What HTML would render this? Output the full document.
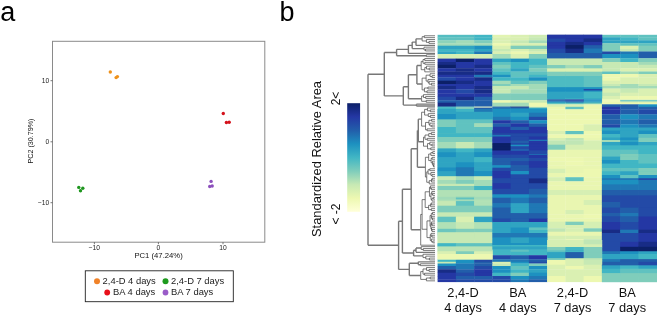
<!DOCTYPE html>
<html><head><meta charset="utf-8"><style>
html,body{margin:0;padding:0;background:#fff;width:660px;height:317px;overflow:hidden}
svg{display:block;will-change:transform}
</style></head><body>
<svg width="660" height="317" viewBox="0 0 660 317">
<rect width="660" height="317" fill="#fff"/>
<text x="0.2" y="20.8" font-family="Liberation Sans, sans-serif" font-size="27" fill="#000">a</text>
<text x="279.6" y="21" font-family="Liberation Sans, sans-serif" font-size="27" fill="#000">b</text>
<!-- PCA box -->
<rect x="52.5" y="41.3" width="212.3" height="200.9" fill="none" stroke="#8a8a8a" stroke-width="1"/>
<g stroke="#555" stroke-width="0.8">
<line x1="50.5" y1="80.7" x2="52.5" y2="80.7"/>
<line x1="50.5" y1="141.8" x2="52.5" y2="141.8"/>
<line x1="50.5" y1="202.7" x2="52.5" y2="202.7"/>
<line x1="94.4" y1="242.2" x2="94.4" y2="244.2"/>
<line x1="158.4" y1="242.2" x2="158.4" y2="244.2"/>
<line x1="223" y1="242.2" x2="223" y2="244.2"/>
</g>
<g font-family="Liberation Sans, sans-serif" font-size="6.7" fill="#222" text-anchor="end">
<text x="49.3" y="83">10</text>
<text x="49.3" y="144">0</text>
<text x="49.3" y="205">&#8722;10</text>
</g>
<g font-family="Liberation Sans, sans-serif" font-size="6.7" fill="#222" text-anchor="middle">
<text x="94.4" y="250">&#8722;10</text>
<text x="158.4" y="250">0</text>
<text x="223" y="250">10</text>
</g>
<text x="158.6" y="257.5" font-family="Liberation Sans, sans-serif" font-size="7.7" fill="#111" text-anchor="middle">PC1 (47.24%)</text>
<text transform="translate(33.2,141) rotate(-90)" font-family="Liberation Sans, sans-serif" font-size="7.7" fill="#111" text-anchor="middle" textLength="45" lengthAdjust="spacingAndGlyphs">PC2 (30.79%)</text>
<circle cx="110.3" cy="72" r="1.7" fill="#EE921C"/>
<circle cx="116.1" cy="77.6" r="1.7" fill="#EE921C"/>
<circle cx="117.4" cy="76.6" r="1.7" fill="#EE921C"/>
<circle cx="223.3" cy="113.5" r="1.7" fill="#D4111B"/>
<circle cx="226.4" cy="122.5" r="1.7" fill="#D4111B"/>
<circle cx="229.2" cy="122.2" r="1.7" fill="#D4111B"/>
<circle cx="211.1" cy="181.4" r="1.7" fill="#8C50BC"/>
<circle cx="209.7" cy="186.5" r="1.7" fill="#8C50BC"/>
<circle cx="212.2" cy="186" r="1.7" fill="#8C50BC"/>
<circle cx="78.8" cy="187.4" r="1.7" fill="#1E961E"/>
<circle cx="82.8" cy="188.2" r="1.7" fill="#1E961E"/>
<circle cx="80.5" cy="190.8" r="1.7" fill="#1E961E"/>
<!-- legend -->
<rect x="85.3" y="270.8" width="148" height="30.9" fill="none" stroke="#222" stroke-width="0.9"/>
<circle cx="97" cy="281.3" r="3" fill="#F08228"/>
<circle cx="165.5" cy="281.3" r="3" fill="#1E9A1E"/>
<circle cx="107.2" cy="292.5" r="2.9" fill="#E8101A"/>
<circle cx="165.5" cy="292.5" r="2.9" fill="#9A5CC8"/>
<g font-family="Liberation Sans, sans-serif" font-size="9.4" fill="#222">
<text x="102.6" y="284.2">2,4-D 4 days</text>
<text x="171" y="284.2">2,4-D 7 days</text>
<text x="113" y="295.4">BA 4 days</text>
<text x="171" y="295.4">BA 7 days</text>
</g>
<!-- heatmap -->
<rect x="437.60" y="34.80" width="18.56" height="2.80" fill="#54bdc1"/>
<rect x="455.86" y="34.80" width="18.56" height="2.80" fill="#54bdc1"/>
<rect x="474.12" y="34.80" width="18.56" height="2.80" fill="#41b6c4"/>
<rect x="492.38" y="34.80" width="18.56" height="2.80" fill="#e2f4b2"/>
<rect x="510.63" y="34.80" width="18.56" height="2.80" fill="#daf0b2"/>
<rect x="528.89" y="34.80" width="18.56" height="2.80" fill="#cfecb3"/>
<rect x="437.60" y="37.30" width="18.56" height="3.30" fill="#60c2c0"/>
<rect x="455.86" y="37.30" width="18.56" height="3.30" fill="#60c2c0"/>
<rect x="474.12" y="37.30" width="18.56" height="3.30" fill="#41b6c4"/>
<rect x="492.38" y="37.30" width="18.56" height="3.30" fill="#daf0b2"/>
<rect x="510.63" y="37.30" width="18.56" height="3.30" fill="#daf0b2"/>
<rect x="528.89" y="37.30" width="18.56" height="3.30" fill="#c7e9b4"/>
<rect x="437.60" y="40.30" width="18.56" height="3.20" fill="#8dd3ba"/>
<rect x="455.86" y="40.30" width="18.56" height="3.20" fill="#a3dbb8"/>
<rect x="474.12" y="40.30" width="18.56" height="3.20" fill="#7fcdbb"/>
<rect x="492.38" y="40.30" width="18.56" height="3.20" fill="#daf0b2"/>
<rect x="510.63" y="40.30" width="18.56" height="3.20" fill="#c7e9b4"/>
<rect x="528.89" y="40.30" width="18.56" height="3.20" fill="#a3dbb8"/>
<rect x="437.60" y="43.20" width="18.56" height="2.80" fill="#a3dbb8"/>
<rect x="455.86" y="43.20" width="18.56" height="2.80" fill="#a3dbb8"/>
<rect x="474.12" y="43.20" width="18.56" height="2.80" fill="#a3dbb8"/>
<rect x="492.38" y="43.20" width="18.56" height="2.80" fill="#edf8b1"/>
<rect x="510.63" y="43.20" width="18.56" height="2.80" fill="#daf0b2"/>
<rect x="528.89" y="43.20" width="18.56" height="2.80" fill="#daf0b2"/>
<rect x="437.60" y="45.70" width="18.56" height="3.60" fill="#2fa4c2"/>
<rect x="455.86" y="45.70" width="18.56" height="3.60" fill="#2fa4c2"/>
<rect x="474.12" y="45.70" width="18.56" height="3.60" fill="#1d91c0"/>
<rect x="492.38" y="45.70" width="18.56" height="3.60" fill="#daf0b2"/>
<rect x="510.63" y="45.70" width="18.56" height="3.60" fill="#7fcdbb"/>
<rect x="528.89" y="45.70" width="18.56" height="3.60" fill="#7fcdbb"/>
<rect x="437.60" y="49.00" width="18.56" height="2.80" fill="#41b6c4"/>
<rect x="455.86" y="49.00" width="18.56" height="2.80" fill="#41b6c4"/>
<rect x="474.12" y="49.00" width="18.56" height="2.80" fill="#2fa4c2"/>
<rect x="492.38" y="49.00" width="18.56" height="2.80" fill="#c7e9b4"/>
<rect x="510.63" y="49.00" width="18.56" height="2.80" fill="#daf0b2"/>
<rect x="528.89" y="49.00" width="18.56" height="2.80" fill="#c7e9b4"/>
<rect x="437.60" y="51.50" width="18.56" height="2.80" fill="#2fa4c2"/>
<rect x="455.86" y="51.50" width="18.56" height="2.80" fill="#41b6c4"/>
<rect x="474.12" y="51.50" width="18.56" height="2.80" fill="#2078b5"/>
<rect x="492.38" y="51.50" width="18.56" height="2.80" fill="#daf0b2"/>
<rect x="510.63" y="51.50" width="18.56" height="2.80" fill="#edf8b1"/>
<rect x="528.89" y="51.50" width="18.56" height="2.80" fill="#daf0b2"/>
<rect x="437.60" y="54.00" width="18.56" height="4.90" fill="#d6efb3"/>
<rect x="455.86" y="54.00" width="18.56" height="4.90" fill="#d6efb3"/>
<rect x="474.12" y="54.00" width="18.56" height="4.90" fill="#d6efb3"/>
<rect x="492.38" y="54.00" width="18.56" height="4.90" fill="#a3dbb8"/>
<rect x="510.63" y="54.00" width="18.56" height="4.90" fill="#daf0b2"/>
<rect x="528.89" y="54.00" width="18.56" height="4.90" fill="#7fcdbb"/>
<rect x="437.60" y="58.60" width="18.56" height="3.70" fill="#2437a4"/>
<rect x="455.86" y="58.60" width="18.56" height="3.70" fill="#0c2068"/>
<rect x="474.12" y="58.60" width="18.56" height="3.70" fill="#2437a4"/>
<rect x="492.38" y="58.60" width="18.56" height="3.70" fill="#2fa4c2"/>
<rect x="510.63" y="58.60" width="18.56" height="3.70" fill="#1d91c0"/>
<rect x="528.89" y="58.60" width="18.56" height="3.70" fill="#41b6c4"/>
<rect x="437.60" y="62.00" width="18.56" height="3.10" fill="#182c86"/>
<rect x="455.86" y="62.00" width="18.56" height="3.10" fill="#2437a4"/>
<rect x="474.12" y="62.00" width="18.56" height="3.10" fill="#2437a4"/>
<rect x="492.38" y="62.00" width="18.56" height="3.10" fill="#60c2c0"/>
<rect x="510.63" y="62.00" width="18.56" height="3.10" fill="#41b6c4"/>
<rect x="528.89" y="62.00" width="18.56" height="3.10" fill="#41b6c4"/>
<rect x="437.60" y="64.80" width="18.56" height="3.70" fill="#0c2068"/>
<rect x="455.86" y="64.80" width="18.56" height="3.70" fill="#2437a4"/>
<rect x="474.12" y="64.80" width="18.56" height="3.70" fill="#182c86"/>
<rect x="492.38" y="64.80" width="18.56" height="3.70" fill="#7fcdbb"/>
<rect x="510.63" y="64.80" width="18.56" height="3.70" fill="#41b6c4"/>
<rect x="528.89" y="64.80" width="18.56" height="3.70" fill="#60c2c0"/>
<rect x="437.60" y="68.20" width="18.56" height="3.60" fill="#2437a4"/>
<rect x="455.86" y="68.20" width="18.56" height="3.60" fill="#182c86"/>
<rect x="474.12" y="68.20" width="18.56" height="3.60" fill="#2437a4"/>
<rect x="492.38" y="68.20" width="18.56" height="3.60" fill="#60c2c0"/>
<rect x="510.63" y="68.20" width="18.56" height="3.60" fill="#2fa4c2"/>
<rect x="528.89" y="68.20" width="18.56" height="3.60" fill="#7fcdbb"/>
<rect x="437.60" y="71.50" width="18.56" height="3.60" fill="#182c86"/>
<rect x="455.86" y="71.50" width="18.56" height="3.60" fill="#182c86"/>
<rect x="474.12" y="71.50" width="18.56" height="3.60" fill="#182c86"/>
<rect x="492.38" y="71.50" width="18.56" height="3.60" fill="#41b6c4"/>
<rect x="510.63" y="71.50" width="18.56" height="3.60" fill="#60c2c0"/>
<rect x="528.89" y="71.50" width="18.56" height="3.60" fill="#60c2c0"/>
<rect x="437.60" y="74.80" width="18.56" height="2.80" fill="#2437a4"/>
<rect x="455.86" y="74.80" width="18.56" height="2.80" fill="#2437a4"/>
<rect x="474.12" y="74.80" width="18.56" height="2.80" fill="#2078b5"/>
<rect x="492.38" y="74.80" width="18.56" height="2.80" fill="#1d91c0"/>
<rect x="510.63" y="74.80" width="18.56" height="2.80" fill="#60c2c0"/>
<rect x="528.89" y="74.80" width="18.56" height="2.80" fill="#41b6c4"/>
<rect x="437.60" y="77.30" width="18.56" height="3.70" fill="#234aa7"/>
<rect x="455.86" y="77.30" width="18.56" height="3.70" fill="#2437a4"/>
<rect x="474.12" y="77.30" width="18.56" height="3.70" fill="#182c86"/>
<rect x="492.38" y="77.30" width="18.56" height="3.70" fill="#41b6c4"/>
<rect x="510.63" y="77.30" width="18.56" height="3.70" fill="#41b6c4"/>
<rect x="528.89" y="77.30" width="18.56" height="3.70" fill="#1d91c0"/>
<rect x="437.60" y="80.70" width="18.56" height="3.60" fill="#0c2068"/>
<rect x="455.86" y="80.70" width="18.56" height="3.60" fill="#182c86"/>
<rect x="474.12" y="80.70" width="18.56" height="3.60" fill="#2437a4"/>
<rect x="492.38" y="80.70" width="18.56" height="3.60" fill="#a3dbb8"/>
<rect x="510.63" y="80.70" width="18.56" height="3.60" fill="#60c2c0"/>
<rect x="528.89" y="80.70" width="18.56" height="3.60" fill="#7fcdbb"/>
<rect x="437.60" y="84.00" width="18.56" height="2.30" fill="#2437a4"/>
<rect x="455.86" y="84.00" width="18.56" height="2.30" fill="#2437a4"/>
<rect x="474.12" y="84.00" width="18.56" height="2.30" fill="#2437a4"/>
<rect x="492.38" y="84.00" width="18.56" height="2.30" fill="#7fcdbb"/>
<rect x="510.63" y="84.00" width="18.56" height="2.30" fill="#a3dbb8"/>
<rect x="528.89" y="84.00" width="18.56" height="2.30" fill="#a3dbb8"/>
<rect x="437.60" y="86.00" width="18.56" height="3.60" fill="#182c86"/>
<rect x="455.86" y="86.00" width="18.56" height="3.60" fill="#2437a4"/>
<rect x="474.12" y="86.00" width="18.56" height="3.60" fill="#182c86"/>
<rect x="492.38" y="86.00" width="18.56" height="3.60" fill="#c7e9b4"/>
<rect x="510.63" y="86.00" width="18.56" height="3.60" fill="#c7e9b4"/>
<rect x="528.89" y="86.00" width="18.56" height="3.60" fill="#a3dbb8"/>
<rect x="437.60" y="89.30" width="18.56" height="4.50" fill="#2437a4"/>
<rect x="455.86" y="89.30" width="18.56" height="4.50" fill="#234aa7"/>
<rect x="474.12" y="89.30" width="18.56" height="4.50" fill="#182c86"/>
<rect x="492.38" y="89.30" width="18.56" height="4.50" fill="#c7e9b4"/>
<rect x="510.63" y="89.30" width="18.56" height="4.50" fill="#a3dbb8"/>
<rect x="528.89" y="89.30" width="18.56" height="4.50" fill="#a3dbb8"/>
<rect x="437.60" y="93.50" width="18.56" height="3.60" fill="#2437a4"/>
<rect x="455.86" y="93.50" width="18.56" height="3.60" fill="#2437a4"/>
<rect x="474.12" y="93.50" width="18.56" height="3.60" fill="#2437a4"/>
<rect x="492.38" y="93.50" width="18.56" height="3.60" fill="#7fcdbb"/>
<rect x="510.63" y="93.50" width="18.56" height="3.60" fill="#7fcdbb"/>
<rect x="528.89" y="93.50" width="18.56" height="3.60" fill="#7fcdbb"/>
<rect x="437.60" y="96.80" width="18.56" height="3.70" fill="#234aa7"/>
<rect x="455.86" y="96.80" width="18.56" height="3.70" fill="#182c86"/>
<rect x="474.12" y="96.80" width="18.56" height="3.70" fill="#225eaa"/>
<rect x="492.38" y="96.80" width="18.56" height="3.70" fill="#7fcdbb"/>
<rect x="510.63" y="96.80" width="18.56" height="3.70" fill="#7fcdbb"/>
<rect x="528.89" y="96.80" width="18.56" height="3.70" fill="#7fcdbb"/>
<rect x="437.60" y="100.20" width="18.56" height="2.80" fill="#225eaa"/>
<rect x="455.86" y="100.20" width="18.56" height="2.80" fill="#225eaa"/>
<rect x="474.12" y="100.20" width="18.56" height="2.80" fill="#225eaa"/>
<rect x="492.38" y="100.20" width="18.56" height="2.80" fill="#edf8b1"/>
<rect x="510.63" y="100.20" width="18.56" height="2.80" fill="#daf0b2"/>
<rect x="528.89" y="100.20" width="18.56" height="2.80" fill="#c7e9b4"/>
<rect x="437.60" y="102.70" width="18.56" height="4.20" fill="#182c86"/>
<rect x="455.86" y="102.70" width="18.56" height="4.20" fill="#225eaa"/>
<rect x="474.12" y="102.70" width="18.56" height="4.20" fill="#225eaa"/>
<rect x="492.38" y="102.70" width="18.56" height="4.20" fill="#a3dbb8"/>
<rect x="510.63" y="102.70" width="18.56" height="4.20" fill="#a3dbb8"/>
<rect x="528.89" y="102.70" width="18.56" height="4.20" fill="#edf8b1"/>
<rect x="437.60" y="106.60" width="18.56" height="1.30" fill="#41b6c4"/>
<rect x="455.86" y="106.60" width="18.56" height="1.30" fill="#7fcdbb"/>
<rect x="474.12" y="106.60" width="18.56" height="1.30" fill="#f6fcc5"/>
<rect x="492.38" y="106.60" width="18.56" height="1.30" fill="#225eaa"/>
<rect x="510.63" y="106.60" width="18.56" height="1.30" fill="#182c86"/>
<rect x="528.89" y="106.60" width="18.56" height="1.30" fill="#daf0b2"/>
<rect x="437.60" y="107.60" width="18.56" height="1.70" fill="#41b6c4"/>
<rect x="455.86" y="107.60" width="18.56" height="1.70" fill="#7fcdbb"/>
<rect x="474.12" y="107.60" width="18.56" height="1.70" fill="#225eaa"/>
<rect x="492.38" y="107.60" width="18.56" height="1.70" fill="#2078b5"/>
<rect x="510.63" y="107.60" width="18.56" height="1.70" fill="#2078b5"/>
<rect x="528.89" y="107.60" width="18.56" height="1.70" fill="#2fa4c2"/>
<rect x="437.60" y="109.00" width="18.56" height="4.00" fill="#41b6c4"/>
<rect x="455.86" y="109.00" width="18.56" height="4.00" fill="#41b6c4"/>
<rect x="474.12" y="109.00" width="18.56" height="4.00" fill="#2fa4c2"/>
<rect x="492.38" y="109.00" width="18.56" height="4.00" fill="#1d91c0"/>
<rect x="510.63" y="109.00" width="18.56" height="4.00" fill="#1d91c0"/>
<rect x="528.89" y="109.00" width="18.56" height="4.00" fill="#1d91c0"/>
<rect x="437.60" y="112.70" width="18.56" height="4.40" fill="#2fa4c2"/>
<rect x="455.86" y="112.70" width="18.56" height="4.40" fill="#41b6c4"/>
<rect x="474.12" y="112.70" width="18.56" height="4.40" fill="#41b6c4"/>
<rect x="492.38" y="112.70" width="18.56" height="4.40" fill="#1d91c0"/>
<rect x="510.63" y="112.70" width="18.56" height="4.40" fill="#2fa4c2"/>
<rect x="528.89" y="112.70" width="18.56" height="4.40" fill="#2078b5"/>
<rect x="437.60" y="116.80" width="18.56" height="3.70" fill="#41b6c4"/>
<rect x="455.86" y="116.80" width="18.56" height="3.70" fill="#60c2c0"/>
<rect x="474.12" y="116.80" width="18.56" height="3.70" fill="#41b6c4"/>
<rect x="492.38" y="116.80" width="18.56" height="3.70" fill="#2078b5"/>
<rect x="510.63" y="116.80" width="18.56" height="3.70" fill="#1d91c0"/>
<rect x="528.89" y="116.80" width="18.56" height="3.70" fill="#234aa7"/>
<rect x="437.60" y="120.20" width="18.56" height="3.60" fill="#60c2c0"/>
<rect x="455.86" y="120.20" width="18.56" height="3.60" fill="#60c2c0"/>
<rect x="474.12" y="120.20" width="18.56" height="3.60" fill="#60c2c0"/>
<rect x="492.38" y="120.20" width="18.56" height="3.60" fill="#2437a4"/>
<rect x="510.63" y="120.20" width="18.56" height="3.60" fill="#225eaa"/>
<rect x="528.89" y="120.20" width="18.56" height="3.60" fill="#1d91c0"/>
<rect x="437.60" y="123.50" width="18.56" height="3.60" fill="#7fcdbb"/>
<rect x="455.86" y="123.50" width="18.56" height="3.60" fill="#60c2c0"/>
<rect x="474.12" y="123.50" width="18.56" height="3.60" fill="#7fcdbb"/>
<rect x="492.38" y="123.50" width="18.56" height="3.60" fill="#225eaa"/>
<rect x="510.63" y="123.50" width="18.56" height="3.60" fill="#2437a4"/>
<rect x="528.89" y="123.50" width="18.56" height="3.60" fill="#225eaa"/>
<rect x="437.60" y="126.80" width="18.56" height="3.70" fill="#60c2c0"/>
<rect x="455.86" y="126.80" width="18.56" height="3.70" fill="#60c2c0"/>
<rect x="474.12" y="126.80" width="18.56" height="3.70" fill="#a3dbb8"/>
<rect x="492.38" y="126.80" width="18.56" height="3.70" fill="#2437a4"/>
<rect x="510.63" y="126.80" width="18.56" height="3.70" fill="#225eaa"/>
<rect x="528.89" y="126.80" width="18.56" height="3.70" fill="#2437a4"/>
<rect x="437.60" y="130.20" width="18.56" height="4.40" fill="#7fcdbb"/>
<rect x="455.86" y="130.20" width="18.56" height="4.40" fill="#60c2c0"/>
<rect x="474.12" y="130.20" width="18.56" height="4.40" fill="#60c2c0"/>
<rect x="492.38" y="130.20" width="18.56" height="4.40" fill="#182c86"/>
<rect x="510.63" y="130.20" width="18.56" height="4.40" fill="#182c86"/>
<rect x="528.89" y="130.20" width="18.56" height="4.40" fill="#2437a4"/>
<rect x="437.60" y="134.30" width="18.56" height="4.00" fill="#41b6c4"/>
<rect x="455.86" y="134.30" width="18.56" height="4.00" fill="#60c2c0"/>
<rect x="474.12" y="134.30" width="18.56" height="4.00" fill="#60c2c0"/>
<rect x="492.38" y="134.30" width="18.56" height="4.00" fill="#2437a4"/>
<rect x="510.63" y="134.30" width="18.56" height="4.00" fill="#182c86"/>
<rect x="528.89" y="134.30" width="18.56" height="4.00" fill="#2437a4"/>
<rect x="437.60" y="138.00" width="18.56" height="2.80" fill="#41b6c4"/>
<rect x="455.86" y="138.00" width="18.56" height="2.80" fill="#41b6c4"/>
<rect x="474.12" y="138.00" width="18.56" height="2.80" fill="#60c2c0"/>
<rect x="492.38" y="138.00" width="18.56" height="2.80" fill="#2437a4"/>
<rect x="510.63" y="138.00" width="18.56" height="2.80" fill="#2437a4"/>
<rect x="528.89" y="138.00" width="18.56" height="2.80" fill="#225eaa"/>
<rect x="437.60" y="140.50" width="18.56" height="4.50" fill="#a3dbb8"/>
<rect x="455.86" y="140.50" width="18.56" height="4.50" fill="#a3dbb8"/>
<rect x="474.12" y="140.50" width="18.56" height="4.50" fill="#a3dbb8"/>
<rect x="492.38" y="140.50" width="18.56" height="4.50" fill="#182c86"/>
<rect x="510.63" y="140.50" width="18.56" height="4.50" fill="#234aa7"/>
<rect x="528.89" y="140.50" width="18.56" height="4.50" fill="#182c86"/>
<rect x="437.60" y="144.70" width="18.56" height="5.30" fill="#a3dbb8"/>
<rect x="455.86" y="144.70" width="18.56" height="5.30" fill="#c7e9b4"/>
<rect x="474.12" y="144.70" width="18.56" height="5.30" fill="#c7e9b4"/>
<rect x="492.38" y="144.70" width="18.56" height="5.30" fill="#0c2068"/>
<rect x="510.63" y="144.70" width="18.56" height="5.30" fill="#2437a4"/>
<rect x="528.89" y="144.70" width="18.56" height="5.30" fill="#2437a4"/>
<rect x="437.60" y="149.70" width="18.56" height="3.60" fill="#41b6c4"/>
<rect x="455.86" y="149.70" width="18.56" height="3.60" fill="#60c2c0"/>
<rect x="474.12" y="149.70" width="18.56" height="3.60" fill="#2fa4c2"/>
<rect x="492.38" y="149.70" width="18.56" height="3.60" fill="#182c86"/>
<rect x="510.63" y="149.70" width="18.56" height="3.60" fill="#2437a4"/>
<rect x="528.89" y="149.70" width="18.56" height="3.60" fill="#234aa7"/>
<rect x="437.60" y="153.00" width="18.56" height="4.50" fill="#2fa4c2"/>
<rect x="455.86" y="153.00" width="18.56" height="4.50" fill="#60c2c0"/>
<rect x="474.12" y="153.00" width="18.56" height="4.50" fill="#41b6c4"/>
<rect x="492.38" y="153.00" width="18.56" height="4.50" fill="#182c86"/>
<rect x="510.63" y="153.00" width="18.56" height="4.50" fill="#2437a4"/>
<rect x="528.89" y="153.00" width="18.56" height="4.50" fill="#234aa7"/>
<rect x="437.60" y="157.20" width="18.56" height="4.40" fill="#2fa4c2"/>
<rect x="455.86" y="157.20" width="18.56" height="4.40" fill="#2fa4c2"/>
<rect x="474.12" y="157.20" width="18.56" height="4.40" fill="#41b6c4"/>
<rect x="492.38" y="157.20" width="18.56" height="4.40" fill="#234aa7"/>
<rect x="510.63" y="157.20" width="18.56" height="4.40" fill="#225eaa"/>
<rect x="528.89" y="157.20" width="18.56" height="4.40" fill="#234aa7"/>
<rect x="437.60" y="161.30" width="18.56" height="4.50" fill="#41b6c4"/>
<rect x="455.86" y="161.30" width="18.56" height="4.50" fill="#2fa4c2"/>
<rect x="474.12" y="161.30" width="18.56" height="4.50" fill="#2fa4c2"/>
<rect x="492.38" y="161.30" width="18.56" height="4.50" fill="#2437a4"/>
<rect x="510.63" y="161.30" width="18.56" height="4.50" fill="#234aa7"/>
<rect x="528.89" y="161.30" width="18.56" height="4.50" fill="#2437a4"/>
<rect x="437.60" y="165.50" width="18.56" height="3.60" fill="#60c2c0"/>
<rect x="455.86" y="165.50" width="18.56" height="3.60" fill="#1d91c0"/>
<rect x="474.12" y="165.50" width="18.56" height="3.60" fill="#41b6c4"/>
<rect x="492.38" y="165.50" width="18.56" height="3.60" fill="#1d91c0"/>
<rect x="510.63" y="165.50" width="18.56" height="3.60" fill="#234aa7"/>
<rect x="528.89" y="165.50" width="18.56" height="3.60" fill="#2437a4"/>
<rect x="437.60" y="168.80" width="18.56" height="4.50" fill="#1d91c0"/>
<rect x="455.86" y="168.80" width="18.56" height="4.50" fill="#1d91c0"/>
<rect x="474.12" y="168.80" width="18.56" height="4.50" fill="#2fa4c2"/>
<rect x="492.38" y="168.80" width="18.56" height="4.50" fill="#234aa7"/>
<rect x="510.63" y="168.80" width="18.56" height="4.50" fill="#234aa7"/>
<rect x="528.89" y="168.80" width="18.56" height="4.50" fill="#234aa7"/>
<rect x="437.60" y="173.00" width="18.56" height="4.50" fill="#41b6c4"/>
<rect x="455.86" y="173.00" width="18.56" height="4.50" fill="#2078b5"/>
<rect x="474.12" y="173.00" width="18.56" height="4.50" fill="#2fa4c2"/>
<rect x="492.38" y="173.00" width="18.56" height="4.50" fill="#2437a4"/>
<rect x="510.63" y="173.00" width="18.56" height="4.50" fill="#1d91c0"/>
<rect x="528.89" y="173.00" width="18.56" height="4.50" fill="#234aa7"/>
<rect x="437.60" y="177.20" width="18.56" height="4.40" fill="#daf0b2"/>
<rect x="455.86" y="177.20" width="18.56" height="4.40" fill="#a3dbb8"/>
<rect x="474.12" y="177.20" width="18.56" height="4.40" fill="#daf0b2"/>
<rect x="492.38" y="177.20" width="18.56" height="4.40" fill="#225eaa"/>
<rect x="510.63" y="177.20" width="18.56" height="4.40" fill="#2437a4"/>
<rect x="528.89" y="177.20" width="18.56" height="4.40" fill="#225eaa"/>
<rect x="437.60" y="181.30" width="18.56" height="4.50" fill="#c7e9b4"/>
<rect x="455.86" y="181.30" width="18.56" height="4.50" fill="#a3dbb8"/>
<rect x="474.12" y="181.30" width="18.56" height="4.50" fill="#c7e9b4"/>
<rect x="492.38" y="181.30" width="18.56" height="4.50" fill="#2437a4"/>
<rect x="510.63" y="181.30" width="18.56" height="4.50" fill="#234aa7"/>
<rect x="528.89" y="181.30" width="18.56" height="4.50" fill="#2437a4"/>
<rect x="437.60" y="185.50" width="18.56" height="4.80" fill="#a3dbb8"/>
<rect x="455.86" y="185.50" width="18.56" height="4.80" fill="#c7e9b4"/>
<rect x="474.12" y="185.50" width="18.56" height="4.80" fill="#7fcdbb"/>
<rect x="492.38" y="185.50" width="18.56" height="4.80" fill="#234aa7"/>
<rect x="510.63" y="185.50" width="18.56" height="4.80" fill="#2437a4"/>
<rect x="528.89" y="185.50" width="18.56" height="4.80" fill="#234aa7"/>
<rect x="437.60" y="190.00" width="18.56" height="3.60" fill="#c7e9b4"/>
<rect x="455.86" y="190.00" width="18.56" height="3.60" fill="#c7e9b4"/>
<rect x="474.12" y="190.00" width="18.56" height="3.60" fill="#c7e9b4"/>
<rect x="492.38" y="190.00" width="18.56" height="3.60" fill="#234aa7"/>
<rect x="510.63" y="190.00" width="18.56" height="3.60" fill="#234aa7"/>
<rect x="528.89" y="190.00" width="18.56" height="3.60" fill="#234aa7"/>
<rect x="437.60" y="193.30" width="18.56" height="3.70" fill="#a3dbb8"/>
<rect x="455.86" y="193.30" width="18.56" height="3.70" fill="#c7e9b4"/>
<rect x="474.12" y="193.30" width="18.56" height="3.70" fill="#a3dbb8"/>
<rect x="492.38" y="193.30" width="18.56" height="3.70" fill="#225eaa"/>
<rect x="510.63" y="193.30" width="18.56" height="3.70" fill="#225eaa"/>
<rect x="528.89" y="193.30" width="18.56" height="3.70" fill="#234aa7"/>
<rect x="437.60" y="196.70" width="18.56" height="3.60" fill="#7fcdbb"/>
<rect x="455.86" y="196.70" width="18.56" height="3.60" fill="#a3dbb8"/>
<rect x="474.12" y="196.70" width="18.56" height="3.60" fill="#a3dbb8"/>
<rect x="492.38" y="196.70" width="18.56" height="3.60" fill="#2078b5"/>
<rect x="510.63" y="196.70" width="18.56" height="3.60" fill="#1d91c0"/>
<rect x="528.89" y="196.70" width="18.56" height="3.60" fill="#2078b5"/>
<rect x="437.60" y="200.00" width="18.56" height="3.60" fill="#c7e9b4"/>
<rect x="455.86" y="200.00" width="18.56" height="3.60" fill="#60c2c0"/>
<rect x="474.12" y="200.00" width="18.56" height="3.60" fill="#c7e9b4"/>
<rect x="492.38" y="200.00" width="18.56" height="3.60" fill="#225eaa"/>
<rect x="510.63" y="200.00" width="18.56" height="3.60" fill="#2078b5"/>
<rect x="528.89" y="200.00" width="18.56" height="3.60" fill="#225eaa"/>
<rect x="437.60" y="203.30" width="18.56" height="3.70" fill="#a3dbb8"/>
<rect x="455.86" y="203.30" width="18.56" height="3.70" fill="#a3dbb8"/>
<rect x="474.12" y="203.30" width="18.56" height="3.70" fill="#a3dbb8"/>
<rect x="492.38" y="203.30" width="18.56" height="3.70" fill="#2078b5"/>
<rect x="510.63" y="203.30" width="18.56" height="3.70" fill="#2078b5"/>
<rect x="528.89" y="203.30" width="18.56" height="3.70" fill="#225eaa"/>
<rect x="437.60" y="206.70" width="18.56" height="4.40" fill="#60c2c0"/>
<rect x="455.86" y="206.70" width="18.56" height="4.40" fill="#7fcdbb"/>
<rect x="474.12" y="206.70" width="18.56" height="4.40" fill="#7fcdbb"/>
<rect x="492.38" y="206.70" width="18.56" height="4.40" fill="#225eaa"/>
<rect x="510.63" y="206.70" width="18.56" height="4.40" fill="#2fa4c2"/>
<rect x="528.89" y="206.70" width="18.56" height="4.40" fill="#2078b5"/>
<rect x="437.60" y="210.80" width="18.56" height="3.70" fill="#7fcdbb"/>
<rect x="455.86" y="210.80" width="18.56" height="3.70" fill="#a3dbb8"/>
<rect x="474.12" y="210.80" width="18.56" height="3.70" fill="#a3dbb8"/>
<rect x="492.38" y="210.80" width="18.56" height="3.70" fill="#2078b5"/>
<rect x="510.63" y="210.80" width="18.56" height="3.70" fill="#1d91c0"/>
<rect x="528.89" y="210.80" width="18.56" height="3.70" fill="#1d91c0"/>
<rect x="437.60" y="214.20" width="18.56" height="3.60" fill="#c7e9b4"/>
<rect x="455.86" y="214.20" width="18.56" height="3.60" fill="#a3dbb8"/>
<rect x="474.12" y="214.20" width="18.56" height="3.60" fill="#a3dbb8"/>
<rect x="492.38" y="214.20" width="18.56" height="3.60" fill="#225eaa"/>
<rect x="510.63" y="214.20" width="18.56" height="3.60" fill="#225eaa"/>
<rect x="528.89" y="214.20" width="18.56" height="3.60" fill="#2078b5"/>
<rect x="437.60" y="217.50" width="18.56" height="3.60" fill="#60c2c0"/>
<rect x="455.86" y="217.50" width="18.56" height="3.60" fill="#daf0b2"/>
<rect x="474.12" y="217.50" width="18.56" height="3.60" fill="#2fa4c2"/>
<rect x="492.38" y="217.50" width="18.56" height="3.60" fill="#234aa7"/>
<rect x="510.63" y="217.50" width="18.56" height="3.60" fill="#225eaa"/>
<rect x="528.89" y="217.50" width="18.56" height="3.60" fill="#225eaa"/>
<rect x="437.60" y="220.80" width="18.56" height="3.70" fill="#a3dbb8"/>
<rect x="455.86" y="220.80" width="18.56" height="3.70" fill="#daf0b2"/>
<rect x="474.12" y="220.80" width="18.56" height="3.70" fill="#a3dbb8"/>
<rect x="492.38" y="220.80" width="18.56" height="3.70" fill="#2fa4c2"/>
<rect x="510.63" y="220.80" width="18.56" height="3.70" fill="#1d91c0"/>
<rect x="528.89" y="220.80" width="18.56" height="3.70" fill="#1d91c0"/>
<rect x="437.60" y="224.20" width="18.56" height="3.60" fill="#a3dbb8"/>
<rect x="455.86" y="224.20" width="18.56" height="3.60" fill="#c7e9b4"/>
<rect x="474.12" y="224.20" width="18.56" height="3.60" fill="#c7e9b4"/>
<rect x="492.38" y="224.20" width="18.56" height="3.60" fill="#1d91c0"/>
<rect x="510.63" y="224.20" width="18.56" height="3.60" fill="#2fa4c2"/>
<rect x="528.89" y="224.20" width="18.56" height="3.60" fill="#2fa4c2"/>
<rect x="437.60" y="227.50" width="18.56" height="4.50" fill="#7fcdbb"/>
<rect x="455.86" y="227.50" width="18.56" height="4.50" fill="#a3dbb8"/>
<rect x="474.12" y="227.50" width="18.56" height="4.50" fill="#c7e9b4"/>
<rect x="492.38" y="227.50" width="18.56" height="4.50" fill="#1d91c0"/>
<rect x="510.63" y="227.50" width="18.56" height="4.50" fill="#2fa4c2"/>
<rect x="528.89" y="227.50" width="18.56" height="4.50" fill="#60c2c0"/>
<rect x="437.60" y="231.70" width="18.56" height="3.60" fill="#60c2c0"/>
<rect x="455.86" y="231.70" width="18.56" height="3.60" fill="#7fcdbb"/>
<rect x="474.12" y="231.70" width="18.56" height="3.60" fill="#a3dbb8"/>
<rect x="492.38" y="231.70" width="18.56" height="3.60" fill="#1d91c0"/>
<rect x="510.63" y="231.70" width="18.56" height="3.60" fill="#2078b5"/>
<rect x="528.89" y="231.70" width="18.56" height="3.60" fill="#1d91c0"/>
<rect x="437.60" y="235.00" width="18.56" height="3.60" fill="#a3dbb8"/>
<rect x="455.86" y="235.00" width="18.56" height="3.60" fill="#c7e9b4"/>
<rect x="474.12" y="235.00" width="18.56" height="3.60" fill="#a3dbb8"/>
<rect x="492.38" y="235.00" width="18.56" height="3.60" fill="#2078b5"/>
<rect x="510.63" y="235.00" width="18.56" height="3.60" fill="#2078b5"/>
<rect x="528.89" y="235.00" width="18.56" height="3.60" fill="#2078b5"/>
<rect x="437.60" y="238.30" width="18.56" height="1.30" fill="#c7e9b4"/>
<rect x="455.86" y="238.30" width="18.56" height="1.30" fill="#c7e9b4"/>
<rect x="474.12" y="238.30" width="18.56" height="1.30" fill="#c7e9b4"/>
<rect x="492.38" y="238.30" width="18.56" height="1.30" fill="#2078b5"/>
<rect x="510.63" y="238.30" width="18.56" height="1.30" fill="#1d91c0"/>
<rect x="528.89" y="238.30" width="18.56" height="1.30" fill="#1d91c0"/>
<rect x="437.60" y="239.30" width="18.56" height="4.50" fill="#daf0b2"/>
<rect x="455.86" y="239.30" width="18.56" height="4.50" fill="#c7e9b4"/>
<rect x="474.12" y="239.30" width="18.56" height="4.50" fill="#daf0b2"/>
<rect x="492.38" y="239.30" width="18.56" height="4.50" fill="#2078b5"/>
<rect x="510.63" y="239.30" width="18.56" height="4.50" fill="#1d91c0"/>
<rect x="528.89" y="239.30" width="18.56" height="4.50" fill="#2078b5"/>
<rect x="437.60" y="243.50" width="18.56" height="2.80" fill="#41b6c4"/>
<rect x="455.86" y="243.50" width="18.56" height="2.80" fill="#41b6c4"/>
<rect x="474.12" y="243.50" width="18.56" height="2.80" fill="#41b6c4"/>
<rect x="492.38" y="243.50" width="18.56" height="2.80" fill="#2078b5"/>
<rect x="510.63" y="243.50" width="18.56" height="2.80" fill="#1d91c0"/>
<rect x="528.89" y="243.50" width="18.56" height="2.80" fill="#1d91c0"/>
<rect x="437.60" y="246.00" width="18.56" height="3.60" fill="#c7e9b4"/>
<rect x="455.86" y="246.00" width="18.56" height="3.60" fill="#c7e9b4"/>
<rect x="474.12" y="246.00" width="18.56" height="3.60" fill="#c7e9b4"/>
<rect x="492.38" y="246.00" width="18.56" height="3.60" fill="#41b6c4"/>
<rect x="510.63" y="246.00" width="18.56" height="3.60" fill="#41b6c4"/>
<rect x="528.89" y="246.00" width="18.56" height="3.60" fill="#41b6c4"/>
<rect x="437.60" y="249.30" width="18.56" height="2.80" fill="#c7e9b4"/>
<rect x="455.86" y="249.30" width="18.56" height="2.80" fill="#a3dbb8"/>
<rect x="474.12" y="249.30" width="18.56" height="2.80" fill="#a3dbb8"/>
<rect x="492.38" y="249.30" width="18.56" height="2.80" fill="#41b6c4"/>
<rect x="510.63" y="249.30" width="18.56" height="2.80" fill="#60c2c0"/>
<rect x="528.89" y="249.30" width="18.56" height="2.80" fill="#41b6c4"/>
<rect x="437.60" y="251.80" width="18.56" height="3.70" fill="#edf8b1"/>
<rect x="455.86" y="251.80" width="18.56" height="3.70" fill="#daf0b2"/>
<rect x="474.12" y="251.80" width="18.56" height="3.70" fill="#edf8b1"/>
<rect x="492.38" y="251.80" width="18.56" height="3.70" fill="#41b6c4"/>
<rect x="510.63" y="251.80" width="18.56" height="3.70" fill="#41b6c4"/>
<rect x="528.89" y="251.80" width="18.56" height="3.70" fill="#41b6c4"/>
<rect x="437.60" y="255.20" width="18.56" height="4.40" fill="#edf8b1"/>
<rect x="455.86" y="255.20" width="18.56" height="4.40" fill="#daf0b2"/>
<rect x="474.12" y="255.20" width="18.56" height="4.40" fill="#edf8b1"/>
<rect x="492.38" y="255.20" width="18.56" height="4.40" fill="#234aa7"/>
<rect x="510.63" y="255.20" width="18.56" height="4.40" fill="#225eaa"/>
<rect x="528.89" y="255.20" width="18.56" height="4.40" fill="#2437a4"/>
<rect x="437.60" y="259.30" width="18.56" height="2.80" fill="#41b6c4"/>
<rect x="455.86" y="259.30" width="18.56" height="2.80" fill="#1d91c0"/>
<rect x="474.12" y="259.30" width="18.56" height="2.80" fill="#234aa7"/>
<rect x="492.38" y="259.30" width="18.56" height="2.80" fill="#2078b5"/>
<rect x="510.63" y="259.30" width="18.56" height="2.80" fill="#2078b5"/>
<rect x="528.89" y="259.30" width="18.56" height="2.80" fill="#225eaa"/>
<rect x="437.60" y="261.80" width="18.56" height="2.00" fill="#c7e9b4"/>
<rect x="455.86" y="261.80" width="18.56" height="2.00" fill="#1d91c0"/>
<rect x="474.12" y="261.80" width="18.56" height="2.00" fill="#225eaa"/>
<rect x="492.38" y="261.80" width="18.56" height="2.00" fill="#daf0b2"/>
<rect x="510.63" y="261.80" width="18.56" height="2.00" fill="#1d91c0"/>
<rect x="528.89" y="261.80" width="18.56" height="2.00" fill="#234aa7"/>
<rect x="437.60" y="263.50" width="18.56" height="2.80" fill="#1d91c0"/>
<rect x="455.86" y="263.50" width="18.56" height="2.80" fill="#2078b5"/>
<rect x="474.12" y="263.50" width="18.56" height="2.80" fill="#225eaa"/>
<rect x="492.38" y="263.50" width="18.56" height="2.80" fill="#c7e9b4"/>
<rect x="510.63" y="263.50" width="18.56" height="2.80" fill="#41b6c4"/>
<rect x="528.89" y="263.50" width="18.56" height="2.80" fill="#7fcdbb"/>
<rect x="437.60" y="266.00" width="18.56" height="3.60" fill="#225eaa"/>
<rect x="455.86" y="266.00" width="18.56" height="3.60" fill="#2078b5"/>
<rect x="474.12" y="266.00" width="18.56" height="3.60" fill="#234aa7"/>
<rect x="492.38" y="266.00" width="18.56" height="3.60" fill="#1d91c0"/>
<rect x="510.63" y="266.00" width="18.56" height="3.60" fill="#60c2c0"/>
<rect x="528.89" y="266.00" width="18.56" height="3.60" fill="#1d91c0"/>
<rect x="437.60" y="269.30" width="18.56" height="3.70" fill="#182c86"/>
<rect x="455.86" y="269.30" width="18.56" height="3.70" fill="#225eaa"/>
<rect x="474.12" y="269.30" width="18.56" height="3.70" fill="#2437a4"/>
<rect x="492.38" y="269.30" width="18.56" height="3.70" fill="#1d91c0"/>
<rect x="510.63" y="269.30" width="18.56" height="3.70" fill="#41b6c4"/>
<rect x="528.89" y="269.30" width="18.56" height="3.70" fill="#2fa4c2"/>
<rect x="437.60" y="272.70" width="18.56" height="3.60" fill="#2437a4"/>
<rect x="455.86" y="272.70" width="18.56" height="3.60" fill="#234aa7"/>
<rect x="474.12" y="272.70" width="18.56" height="3.60" fill="#2437a4"/>
<rect x="492.38" y="272.70" width="18.56" height="3.60" fill="#41b6c4"/>
<rect x="510.63" y="272.70" width="18.56" height="3.60" fill="#7fcdbb"/>
<rect x="528.89" y="272.70" width="18.56" height="3.60" fill="#1d91c0"/>
<rect x="437.60" y="276.00" width="18.56" height="3.60" fill="#2437a4"/>
<rect x="455.86" y="276.00" width="18.56" height="3.60" fill="#225eaa"/>
<rect x="474.12" y="276.00" width="18.56" height="3.60" fill="#225eaa"/>
<rect x="492.38" y="276.00" width="18.56" height="3.60" fill="#234aa7"/>
<rect x="510.63" y="276.00" width="18.56" height="3.60" fill="#1d91c0"/>
<rect x="528.89" y="276.00" width="18.56" height="3.60" fill="#2078b5"/>
<rect x="437.60" y="279.30" width="18.56" height="2.80" fill="#2437a4"/>
<rect x="455.86" y="279.30" width="18.56" height="2.80" fill="#234aa7"/>
<rect x="474.12" y="279.30" width="18.56" height="2.80" fill="#234aa7"/>
<rect x="492.38" y="279.30" width="18.56" height="2.80" fill="#234aa7"/>
<rect x="510.63" y="279.30" width="18.56" height="2.80" fill="#2078b5"/>
<rect x="528.89" y="279.30" width="18.56" height="2.80" fill="#225eaa"/>
<rect x="547.15" y="34.80" width="18.56" height="2.80" fill="#182c86"/>
<rect x="565.41" y="34.80" width="18.56" height="2.80" fill="#182c86"/>
<rect x="583.67" y="34.80" width="18.56" height="2.80" fill="#182c86"/>
<rect x="601.93" y="34.80" width="18.56" height="2.80" fill="#60c2c0"/>
<rect x="620.18" y="34.80" width="18.56" height="2.80" fill="#60c2c0"/>
<rect x="638.44" y="34.80" width="18.56" height="2.80" fill="#60c2c0"/>
<rect x="547.15" y="37.30" width="18.56" height="3.30" fill="#2437a4"/>
<rect x="565.41" y="37.30" width="18.56" height="3.30" fill="#182c86"/>
<rect x="583.67" y="37.30" width="18.56" height="3.30" fill="#0c2068"/>
<rect x="601.93" y="37.30" width="18.56" height="3.30" fill="#2fa4c2"/>
<rect x="620.18" y="37.30" width="18.56" height="3.30" fill="#41b6c4"/>
<rect x="638.44" y="37.30" width="18.56" height="3.30" fill="#60c2c0"/>
<rect x="547.15" y="40.30" width="18.56" height="3.20" fill="#182c86"/>
<rect x="565.41" y="40.30" width="18.56" height="3.20" fill="#2437a4"/>
<rect x="583.67" y="40.30" width="18.56" height="3.20" fill="#182c86"/>
<rect x="601.93" y="40.30" width="18.56" height="3.20" fill="#2fa4c2"/>
<rect x="620.18" y="40.30" width="18.56" height="3.20" fill="#2fa4c2"/>
<rect x="638.44" y="40.30" width="18.56" height="3.20" fill="#2fa4c2"/>
<rect x="547.15" y="43.20" width="18.56" height="2.80" fill="#182c86"/>
<rect x="565.41" y="43.20" width="18.56" height="2.80" fill="#0c2068"/>
<rect x="583.67" y="43.20" width="18.56" height="2.80" fill="#182c86"/>
<rect x="601.93" y="43.20" width="18.56" height="2.80" fill="#7fcdbb"/>
<rect x="620.18" y="43.20" width="18.56" height="2.80" fill="#60c2c0"/>
<rect x="638.44" y="43.20" width="18.56" height="2.80" fill="#60c2c0"/>
<rect x="547.15" y="45.70" width="18.56" height="3.60" fill="#2437a4"/>
<rect x="565.41" y="45.70" width="18.56" height="3.60" fill="#0c2068"/>
<rect x="583.67" y="45.70" width="18.56" height="3.60" fill="#1d91c0"/>
<rect x="601.93" y="45.70" width="18.56" height="3.60" fill="#7fcdbb"/>
<rect x="620.18" y="45.70" width="18.56" height="3.60" fill="#daf0b2"/>
<rect x="638.44" y="45.70" width="18.56" height="3.60" fill="#7fcdbb"/>
<rect x="547.15" y="49.00" width="18.56" height="2.80" fill="#182c86"/>
<rect x="565.41" y="49.00" width="18.56" height="2.80" fill="#182c86"/>
<rect x="583.67" y="49.00" width="18.56" height="2.80" fill="#225eaa"/>
<rect x="601.93" y="49.00" width="18.56" height="2.80" fill="#7fcdbb"/>
<rect x="620.18" y="49.00" width="18.56" height="2.80" fill="#c7e9b4"/>
<rect x="638.44" y="49.00" width="18.56" height="2.80" fill="#7fcdbb"/>
<rect x="547.15" y="51.50" width="18.56" height="2.80" fill="#225eaa"/>
<rect x="565.41" y="51.50" width="18.56" height="2.80" fill="#234aa7"/>
<rect x="583.67" y="51.50" width="18.56" height="2.80" fill="#1d91c0"/>
<rect x="601.93" y="51.50" width="18.56" height="2.80" fill="#234aa7"/>
<rect x="620.18" y="51.50" width="18.56" height="2.80" fill="#2078b5"/>
<rect x="638.44" y="51.50" width="18.56" height="2.80" fill="#225eaa"/>
<rect x="547.15" y="54.00" width="18.56" height="4.50" fill="#225eaa"/>
<rect x="565.41" y="54.00" width="18.56" height="4.50" fill="#225eaa"/>
<rect x="583.67" y="54.00" width="18.56" height="4.50" fill="#225eaa"/>
<rect x="601.93" y="54.00" width="18.56" height="4.50" fill="#1d91c0"/>
<rect x="620.18" y="54.00" width="18.56" height="4.50" fill="#1d91c0"/>
<rect x="638.44" y="54.00" width="18.56" height="4.50" fill="#225eaa"/>
<rect x="547.15" y="58.20" width="18.56" height="4.10" fill="#c7e9b4"/>
<rect x="565.41" y="58.20" width="18.56" height="4.10" fill="#c7e9b4"/>
<rect x="583.67" y="58.20" width="18.56" height="4.10" fill="#daf0b2"/>
<rect x="601.93" y="58.20" width="18.56" height="4.10" fill="#7fcdbb"/>
<rect x="620.18" y="58.20" width="18.56" height="4.10" fill="#41b6c4"/>
<rect x="638.44" y="58.20" width="18.56" height="4.10" fill="#7fcdbb"/>
<rect x="547.15" y="62.00" width="18.56" height="3.10" fill="#a3dbb8"/>
<rect x="565.41" y="62.00" width="18.56" height="3.10" fill="#c7e9b4"/>
<rect x="583.67" y="62.00" width="18.56" height="3.10" fill="#c7e9b4"/>
<rect x="601.93" y="62.00" width="18.56" height="3.10" fill="#c7e9b4"/>
<rect x="620.18" y="62.00" width="18.56" height="3.10" fill="#c7e9b4"/>
<rect x="638.44" y="62.00" width="18.56" height="3.10" fill="#a3dbb8"/>
<rect x="547.15" y="64.80" width="18.56" height="3.70" fill="#7fcdbb"/>
<rect x="565.41" y="64.80" width="18.56" height="3.70" fill="#a3dbb8"/>
<rect x="583.67" y="64.80" width="18.56" height="3.70" fill="#a3dbb8"/>
<rect x="601.93" y="64.80" width="18.56" height="3.70" fill="#c7e9b4"/>
<rect x="620.18" y="64.80" width="18.56" height="3.70" fill="#c7e9b4"/>
<rect x="638.44" y="64.80" width="18.56" height="3.70" fill="#c7e9b4"/>
<rect x="547.15" y="68.20" width="18.56" height="3.60" fill="#a3dbb8"/>
<rect x="565.41" y="68.20" width="18.56" height="3.60" fill="#daf0b2"/>
<rect x="583.67" y="68.20" width="18.56" height="3.60" fill="#a3dbb8"/>
<rect x="601.93" y="68.20" width="18.56" height="3.60" fill="#c7e9b4"/>
<rect x="620.18" y="68.20" width="18.56" height="3.60" fill="#daf0b2"/>
<rect x="638.44" y="68.20" width="18.56" height="3.60" fill="#daf0b2"/>
<rect x="547.15" y="71.50" width="18.56" height="2.80" fill="#7fcdbb"/>
<rect x="565.41" y="71.50" width="18.56" height="2.80" fill="#7fcdbb"/>
<rect x="583.67" y="71.50" width="18.56" height="2.80" fill="#7fcdbb"/>
<rect x="601.93" y="71.50" width="18.56" height="2.80" fill="#60c2c0"/>
<rect x="620.18" y="71.50" width="18.56" height="2.80" fill="#a3dbb8"/>
<rect x="638.44" y="71.50" width="18.56" height="2.80" fill="#7fcdbb"/>
<rect x="547.15" y="74.00" width="18.56" height="3.60" fill="#41b6c4"/>
<rect x="565.41" y="74.00" width="18.56" height="3.60" fill="#41b6c4"/>
<rect x="583.67" y="74.00" width="18.56" height="3.60" fill="#41b6c4"/>
<rect x="601.93" y="74.00" width="18.56" height="3.60" fill="#edf8b1"/>
<rect x="620.18" y="74.00" width="18.56" height="3.60" fill="#edf8b1"/>
<rect x="638.44" y="74.00" width="18.56" height="3.60" fill="#daf0b2"/>
<rect x="547.15" y="77.30" width="18.56" height="3.70" fill="#41b6c4"/>
<rect x="565.41" y="77.30" width="18.56" height="3.70" fill="#60c2c0"/>
<rect x="583.67" y="77.30" width="18.56" height="3.70" fill="#41b6c4"/>
<rect x="601.93" y="77.30" width="18.56" height="3.70" fill="#edf8b1"/>
<rect x="620.18" y="77.30" width="18.56" height="3.70" fill="#daf0b2"/>
<rect x="638.44" y="77.30" width="18.56" height="3.70" fill="#daf0b2"/>
<rect x="547.15" y="80.70" width="18.56" height="3.60" fill="#41b6c4"/>
<rect x="565.41" y="80.70" width="18.56" height="3.60" fill="#41b6c4"/>
<rect x="583.67" y="80.70" width="18.56" height="3.60" fill="#41b6c4"/>
<rect x="601.93" y="80.70" width="18.56" height="3.60" fill="#daf0b2"/>
<rect x="620.18" y="80.70" width="18.56" height="3.60" fill="#daf0b2"/>
<rect x="638.44" y="80.70" width="18.56" height="3.60" fill="#daf0b2"/>
<rect x="547.15" y="84.00" width="18.56" height="2.30" fill="#60c2c0"/>
<rect x="565.41" y="84.00" width="18.56" height="2.30" fill="#60c2c0"/>
<rect x="583.67" y="84.00" width="18.56" height="2.30" fill="#60c2c0"/>
<rect x="601.93" y="84.00" width="18.56" height="2.30" fill="#c7e9b4"/>
<rect x="620.18" y="84.00" width="18.56" height="2.30" fill="#a3dbb8"/>
<rect x="638.44" y="84.00" width="18.56" height="2.30" fill="#c7e9b4"/>
<rect x="547.15" y="86.00" width="18.56" height="2.80" fill="#41b6c4"/>
<rect x="565.41" y="86.00" width="18.56" height="2.80" fill="#41b6c4"/>
<rect x="583.67" y="86.00" width="18.56" height="2.80" fill="#41b6c4"/>
<rect x="601.93" y="86.00" width="18.56" height="2.80" fill="#a3dbb8"/>
<rect x="620.18" y="86.00" width="18.56" height="2.80" fill="#a3dbb8"/>
<rect x="638.44" y="86.00" width="18.56" height="2.80" fill="#a3dbb8"/>
<rect x="547.15" y="88.50" width="18.56" height="4.50" fill="#1d91c0"/>
<rect x="565.41" y="88.50" width="18.56" height="4.50" fill="#1d91c0"/>
<rect x="583.67" y="88.50" width="18.56" height="4.50" fill="#234aa7"/>
<rect x="601.93" y="88.50" width="18.56" height="4.50" fill="#daf0b2"/>
<rect x="620.18" y="88.50" width="18.56" height="4.50" fill="#c7e9b4"/>
<rect x="638.44" y="88.50" width="18.56" height="4.50" fill="#daf0b2"/>
<rect x="547.15" y="92.70" width="18.56" height="3.60" fill="#2fa4c2"/>
<rect x="565.41" y="92.70" width="18.56" height="3.60" fill="#1d91c0"/>
<rect x="583.67" y="92.70" width="18.56" height="3.60" fill="#41b6c4"/>
<rect x="601.93" y="92.70" width="18.56" height="3.60" fill="#c7e9b4"/>
<rect x="620.18" y="92.70" width="18.56" height="3.60" fill="#daf0b2"/>
<rect x="638.44" y="92.70" width="18.56" height="3.60" fill="#daf0b2"/>
<rect x="547.15" y="96.00" width="18.56" height="3.60" fill="#2fa4c2"/>
<rect x="565.41" y="96.00" width="18.56" height="3.60" fill="#41b6c4"/>
<rect x="583.67" y="96.00" width="18.56" height="3.60" fill="#2fa4c2"/>
<rect x="601.93" y="96.00" width="18.56" height="3.60" fill="#daf0b2"/>
<rect x="620.18" y="96.00" width="18.56" height="3.60" fill="#edf8b1"/>
<rect x="638.44" y="96.00" width="18.56" height="3.60" fill="#edf8b1"/>
<rect x="547.15" y="99.30" width="18.56" height="1.20" fill="#225eaa"/>
<rect x="565.41" y="99.30" width="18.56" height="1.20" fill="#234aa7"/>
<rect x="583.67" y="99.30" width="18.56" height="1.20" fill="#1d91c0"/>
<rect x="601.93" y="99.30" width="18.56" height="1.20" fill="#edf8b1"/>
<rect x="620.18" y="99.30" width="18.56" height="1.20" fill="#daf0b2"/>
<rect x="638.44" y="99.30" width="18.56" height="1.20" fill="#daf0b2"/>
<rect x="547.15" y="100.20" width="18.56" height="1.60" fill="#225eaa"/>
<rect x="565.41" y="100.20" width="18.56" height="1.60" fill="#234aa7"/>
<rect x="583.67" y="100.20" width="18.56" height="1.60" fill="#1d91c0"/>
<rect x="601.93" y="100.20" width="18.56" height="1.60" fill="#edf8b1"/>
<rect x="620.18" y="100.20" width="18.56" height="1.60" fill="#60c2c0"/>
<rect x="638.44" y="100.20" width="18.56" height="1.60" fill="#60c2c0"/>
<rect x="547.15" y="101.50" width="18.56" height="1.50" fill="#1d91c0"/>
<rect x="565.41" y="101.50" width="18.56" height="1.50" fill="#2078b5"/>
<rect x="583.67" y="101.50" width="18.56" height="1.50" fill="#2fa4c2"/>
<rect x="601.93" y="101.50" width="18.56" height="1.50" fill="#edf8b1"/>
<rect x="620.18" y="101.50" width="18.56" height="1.50" fill="#daf0b2"/>
<rect x="638.44" y="101.50" width="18.56" height="1.50" fill="#daf0b2"/>
<rect x="547.15" y="102.70" width="18.56" height="1.90" fill="#60c2c0"/>
<rect x="565.41" y="102.70" width="18.56" height="1.90" fill="#60c2c0"/>
<rect x="583.67" y="102.70" width="18.56" height="1.90" fill="#7fcdbb"/>
<rect x="601.93" y="102.70" width="18.56" height="1.90" fill="#edf8b1"/>
<rect x="620.18" y="102.70" width="18.56" height="1.90" fill="#edf8b1"/>
<rect x="638.44" y="102.70" width="18.56" height="1.90" fill="#edf8b1"/>
<rect x="547.15" y="104.30" width="18.56" height="2.80" fill="#daf0b2"/>
<rect x="565.41" y="104.30" width="18.56" height="2.80" fill="#daf0b2"/>
<rect x="583.67" y="104.30" width="18.56" height="2.80" fill="#edf8b1"/>
<rect x="601.93" y="104.30" width="18.56" height="2.80" fill="#225eaa"/>
<rect x="620.18" y="104.30" width="18.56" height="2.80" fill="#225eaa"/>
<rect x="638.44" y="104.30" width="18.56" height="2.80" fill="#1d91c0"/>
<rect x="547.15" y="106.80" width="18.56" height="2.80" fill="#edf8b1"/>
<rect x="565.41" y="106.80" width="18.56" height="2.80" fill="#60c2c0"/>
<rect x="583.67" y="106.80" width="18.56" height="2.80" fill="#edf8b1"/>
<rect x="601.93" y="106.80" width="18.56" height="2.80" fill="#2437a4"/>
<rect x="620.18" y="106.80" width="18.56" height="2.80" fill="#225eaa"/>
<rect x="638.44" y="106.80" width="18.56" height="2.80" fill="#225eaa"/>
<rect x="547.15" y="109.30" width="18.56" height="5.30" fill="#edf8b1"/>
<rect x="565.41" y="109.30" width="18.56" height="5.30" fill="#edf8b1"/>
<rect x="583.67" y="109.30" width="18.56" height="5.30" fill="#edf8b1"/>
<rect x="601.93" y="109.30" width="18.56" height="5.30" fill="#2437a4"/>
<rect x="620.18" y="109.30" width="18.56" height="5.30" fill="#225eaa"/>
<rect x="638.44" y="109.30" width="18.56" height="5.30" fill="#234aa7"/>
<rect x="547.15" y="114.30" width="18.56" height="5.30" fill="#edf8b1"/>
<rect x="565.41" y="114.30" width="18.56" height="5.30" fill="#edf8b1"/>
<rect x="583.67" y="114.30" width="18.56" height="5.30" fill="#edf8b1"/>
<rect x="601.93" y="114.30" width="18.56" height="5.30" fill="#225eaa"/>
<rect x="620.18" y="114.30" width="18.56" height="5.30" fill="#1d91c0"/>
<rect x="638.44" y="114.30" width="18.56" height="5.30" fill="#2078b5"/>
<rect x="547.15" y="119.30" width="18.56" height="5.30" fill="#edf8b1"/>
<rect x="565.41" y="119.30" width="18.56" height="5.30" fill="#edf8b1"/>
<rect x="583.67" y="119.30" width="18.56" height="5.30" fill="#edf8b1"/>
<rect x="601.93" y="119.30" width="18.56" height="5.30" fill="#225eaa"/>
<rect x="620.18" y="119.30" width="18.56" height="5.30" fill="#2078b5"/>
<rect x="638.44" y="119.30" width="18.56" height="5.30" fill="#225eaa"/>
<rect x="547.15" y="124.30" width="18.56" height="3.70" fill="#edf8b1"/>
<rect x="565.41" y="124.30" width="18.56" height="3.70" fill="#edf8b1"/>
<rect x="583.67" y="124.30" width="18.56" height="3.70" fill="#daf0b2"/>
<rect x="601.93" y="124.30" width="18.56" height="3.70" fill="#234aa7"/>
<rect x="620.18" y="124.30" width="18.56" height="3.70" fill="#1d91c0"/>
<rect x="638.44" y="124.30" width="18.56" height="3.70" fill="#2078b5"/>
<rect x="547.15" y="127.70" width="18.56" height="3.60" fill="#edf8b1"/>
<rect x="565.41" y="127.70" width="18.56" height="3.60" fill="#edf8b1"/>
<rect x="583.67" y="127.70" width="18.56" height="3.60" fill="#daf0b2"/>
<rect x="601.93" y="127.70" width="18.56" height="3.60" fill="#2fa4c2"/>
<rect x="620.18" y="127.70" width="18.56" height="3.60" fill="#2fa4c2"/>
<rect x="638.44" y="127.70" width="18.56" height="3.60" fill="#2fa4c2"/>
<rect x="547.15" y="131.00" width="18.56" height="3.60" fill="#daf0b2"/>
<rect x="565.41" y="131.00" width="18.56" height="3.60" fill="#60c2c0"/>
<rect x="583.67" y="131.00" width="18.56" height="3.60" fill="#edf8b1"/>
<rect x="601.93" y="131.00" width="18.56" height="3.60" fill="#1d91c0"/>
<rect x="620.18" y="131.00" width="18.56" height="3.60" fill="#2fa4c2"/>
<rect x="638.44" y="131.00" width="18.56" height="3.60" fill="#1d91c0"/>
<rect x="547.15" y="134.30" width="18.56" height="4.00" fill="#edf8b1"/>
<rect x="565.41" y="134.30" width="18.56" height="4.00" fill="#edf8b1"/>
<rect x="583.67" y="134.30" width="18.56" height="4.00" fill="#edf8b1"/>
<rect x="601.93" y="134.30" width="18.56" height="4.00" fill="#41b6c4"/>
<rect x="620.18" y="134.30" width="18.56" height="4.00" fill="#2fa4c2"/>
<rect x="638.44" y="134.30" width="18.56" height="4.00" fill="#1d91c0"/>
<rect x="547.15" y="138.00" width="18.56" height="2.80" fill="#d6efb3"/>
<rect x="565.41" y="138.00" width="18.56" height="2.80" fill="#c0e6b5"/>
<rect x="583.67" y="138.00" width="18.56" height="2.80" fill="#e9f6b1"/>
<rect x="601.93" y="138.00" width="18.56" height="2.80" fill="#1d91c0"/>
<rect x="620.18" y="138.00" width="18.56" height="2.80" fill="#1d91c0"/>
<rect x="638.44" y="138.00" width="18.56" height="2.80" fill="#60c2c0"/>
<rect x="547.15" y="140.50" width="18.56" height="4.50" fill="#c0e6b5"/>
<rect x="565.41" y="140.50" width="18.56" height="4.50" fill="#c0e6b5"/>
<rect x="583.67" y="140.50" width="18.56" height="4.50" fill="#d6efb3"/>
<rect x="601.93" y="140.50" width="18.56" height="4.50" fill="#2fa4c2"/>
<rect x="620.18" y="140.50" width="18.56" height="4.50" fill="#1d91c0"/>
<rect x="638.44" y="140.50" width="18.56" height="4.50" fill="#60c2c0"/>
<rect x="547.15" y="144.70" width="18.56" height="5.30" fill="#7fcdbb"/>
<rect x="565.41" y="144.70" width="18.56" height="5.30" fill="#d6efb3"/>
<rect x="583.67" y="144.70" width="18.56" height="5.30" fill="#d6efb3"/>
<rect x="601.93" y="144.70" width="18.56" height="5.30" fill="#2fa4c2"/>
<rect x="620.18" y="144.70" width="18.56" height="5.30" fill="#41b6c4"/>
<rect x="638.44" y="144.70" width="18.56" height="5.30" fill="#41b6c4"/>
<rect x="547.15" y="149.70" width="18.56" height="3.60" fill="#e9f6b1"/>
<rect x="565.41" y="149.70" width="18.56" height="3.60" fill="#e9f6b1"/>
<rect x="583.67" y="149.70" width="18.56" height="3.60" fill="#e9f6b1"/>
<rect x="601.93" y="149.70" width="18.56" height="3.60" fill="#41b6c4"/>
<rect x="620.18" y="149.70" width="18.56" height="3.60" fill="#41b6c4"/>
<rect x="638.44" y="149.70" width="18.56" height="3.60" fill="#2fa4c2"/>
<rect x="547.15" y="153.00" width="18.56" height="4.50" fill="#e9f6b1"/>
<rect x="565.41" y="153.00" width="18.56" height="4.50" fill="#e9f6b1"/>
<rect x="583.67" y="153.00" width="18.56" height="4.50" fill="#e9f6b1"/>
<rect x="601.93" y="153.00" width="18.56" height="4.50" fill="#60c2c0"/>
<rect x="620.18" y="153.00" width="18.56" height="4.50" fill="#60c2c0"/>
<rect x="638.44" y="153.00" width="18.56" height="4.50" fill="#60c2c0"/>
<rect x="547.15" y="157.20" width="18.56" height="4.40" fill="#edf8b1"/>
<rect x="565.41" y="157.20" width="18.56" height="4.40" fill="#edf8b1"/>
<rect x="583.67" y="157.20" width="18.56" height="4.40" fill="#e9f6b1"/>
<rect x="601.93" y="157.20" width="18.56" height="4.40" fill="#1d91c0"/>
<rect x="620.18" y="157.20" width="18.56" height="4.40" fill="#41b6c4"/>
<rect x="638.44" y="157.20" width="18.56" height="4.40" fill="#2fa4c2"/>
<rect x="547.15" y="161.30" width="18.56" height="4.50" fill="#e9f6b1"/>
<rect x="565.41" y="161.30" width="18.56" height="4.50" fill="#edf8b1"/>
<rect x="583.67" y="161.30" width="18.56" height="4.50" fill="#e9f6b1"/>
<rect x="601.93" y="161.30" width="18.56" height="4.50" fill="#2fa4c2"/>
<rect x="620.18" y="161.30" width="18.56" height="4.50" fill="#41b6c4"/>
<rect x="638.44" y="161.30" width="18.56" height="4.50" fill="#41b6c4"/>
<rect x="547.15" y="165.50" width="18.56" height="3.60" fill="#e9f6b1"/>
<rect x="565.41" y="165.50" width="18.56" height="3.60" fill="#e9f6b1"/>
<rect x="583.67" y="165.50" width="18.56" height="3.60" fill="#e9f6b1"/>
<rect x="601.93" y="165.50" width="18.56" height="3.60" fill="#41b6c4"/>
<rect x="620.18" y="165.50" width="18.56" height="3.60" fill="#41b6c4"/>
<rect x="638.44" y="165.50" width="18.56" height="3.60" fill="#41b6c4"/>
<rect x="547.15" y="168.80" width="18.56" height="4.50" fill="#d6efb3"/>
<rect x="565.41" y="168.80" width="18.56" height="4.50" fill="#e9f6b1"/>
<rect x="583.67" y="168.80" width="18.56" height="4.50" fill="#edf8b1"/>
<rect x="601.93" y="168.80" width="18.56" height="4.50" fill="#41b6c4"/>
<rect x="620.18" y="168.80" width="18.56" height="4.50" fill="#2fa4c2"/>
<rect x="638.44" y="168.80" width="18.56" height="4.50" fill="#60c2c0"/>
<rect x="547.15" y="173.00" width="18.56" height="4.50" fill="#e9f6b1"/>
<rect x="565.41" y="173.00" width="18.56" height="4.50" fill="#edf8b1"/>
<rect x="583.67" y="173.00" width="18.56" height="4.50" fill="#edf8b1"/>
<rect x="601.93" y="173.00" width="18.56" height="4.50" fill="#1d91c0"/>
<rect x="620.18" y="173.00" width="18.56" height="4.50" fill="#60c2c0"/>
<rect x="638.44" y="173.00" width="18.56" height="4.50" fill="#41b6c4"/>
<rect x="547.15" y="177.20" width="18.56" height="4.40" fill="#d6efb3"/>
<rect x="565.41" y="177.20" width="18.56" height="4.40" fill="#60c2c0"/>
<rect x="583.67" y="177.20" width="18.56" height="4.40" fill="#e9f6b1"/>
<rect x="601.93" y="177.20" width="18.56" height="4.40" fill="#2078b5"/>
<rect x="620.18" y="177.20" width="18.56" height="4.40" fill="#2078b5"/>
<rect x="638.44" y="177.20" width="18.56" height="4.40" fill="#225eaa"/>
<rect x="547.15" y="181.30" width="18.56" height="4.50" fill="#e9f6b1"/>
<rect x="565.41" y="181.30" width="18.56" height="4.50" fill="#e9f6b1"/>
<rect x="583.67" y="181.30" width="18.56" height="4.50" fill="#e9f6b1"/>
<rect x="601.93" y="181.30" width="18.56" height="4.50" fill="#1d91c0"/>
<rect x="620.18" y="181.30" width="18.56" height="4.50" fill="#1d91c0"/>
<rect x="638.44" y="181.30" width="18.56" height="4.50" fill="#1d91c0"/>
<rect x="547.15" y="185.50" width="18.56" height="4.80" fill="#e9f6b1"/>
<rect x="565.41" y="185.50" width="18.56" height="4.80" fill="#e9f6b1"/>
<rect x="583.67" y="185.50" width="18.56" height="4.80" fill="#e9f6b1"/>
<rect x="601.93" y="185.50" width="18.56" height="4.80" fill="#2078b5"/>
<rect x="620.18" y="185.50" width="18.56" height="4.80" fill="#1d91c0"/>
<rect x="638.44" y="185.50" width="18.56" height="4.80" fill="#1d91c0"/>
<rect x="547.15" y="190.00" width="18.56" height="5.30" fill="#d6efb3"/>
<rect x="565.41" y="190.00" width="18.56" height="5.30" fill="#d6efb3"/>
<rect x="583.67" y="190.00" width="18.56" height="5.30" fill="#d6efb3"/>
<rect x="601.93" y="190.00" width="18.56" height="5.30" fill="#225eaa"/>
<rect x="620.18" y="190.00" width="18.56" height="5.30" fill="#225eaa"/>
<rect x="638.44" y="190.00" width="18.56" height="5.30" fill="#225eaa"/>
<rect x="547.15" y="195.00" width="18.56" height="5.30" fill="#e9f6b1"/>
<rect x="565.41" y="195.00" width="18.56" height="5.30" fill="#e9f6b1"/>
<rect x="583.67" y="195.00" width="18.56" height="5.30" fill="#e9f6b1"/>
<rect x="601.93" y="195.00" width="18.56" height="5.30" fill="#234aa7"/>
<rect x="620.18" y="195.00" width="18.56" height="5.30" fill="#234aa7"/>
<rect x="638.44" y="195.00" width="18.56" height="5.30" fill="#234aa7"/>
<rect x="547.15" y="200.00" width="18.56" height="5.30" fill="#e9f6b1"/>
<rect x="565.41" y="200.00" width="18.56" height="5.30" fill="#e9f6b1"/>
<rect x="583.67" y="200.00" width="18.56" height="5.30" fill="#d6efb3"/>
<rect x="601.93" y="200.00" width="18.56" height="5.30" fill="#234aa7"/>
<rect x="620.18" y="200.00" width="18.56" height="5.30" fill="#225eaa"/>
<rect x="638.44" y="200.00" width="18.56" height="5.30" fill="#234aa7"/>
<rect x="547.15" y="205.00" width="18.56" height="5.30" fill="#e9f6b1"/>
<rect x="565.41" y="205.00" width="18.56" height="5.30" fill="#e9f6b1"/>
<rect x="583.67" y="205.00" width="18.56" height="5.30" fill="#e9f6b1"/>
<rect x="601.93" y="205.00" width="18.56" height="5.30" fill="#225eaa"/>
<rect x="620.18" y="205.00" width="18.56" height="5.30" fill="#234aa7"/>
<rect x="638.44" y="205.00" width="18.56" height="5.30" fill="#234aa7"/>
<rect x="547.15" y="210.00" width="18.56" height="4.50" fill="#e9f6b1"/>
<rect x="565.41" y="210.00" width="18.56" height="4.50" fill="#d6efb3"/>
<rect x="583.67" y="210.00" width="18.56" height="4.50" fill="#e9f6b1"/>
<rect x="601.93" y="210.00" width="18.56" height="4.50" fill="#234aa7"/>
<rect x="620.18" y="210.00" width="18.56" height="4.50" fill="#2078b5"/>
<rect x="638.44" y="210.00" width="18.56" height="4.50" fill="#225eaa"/>
<rect x="547.15" y="214.20" width="18.56" height="4.40" fill="#e9f6b1"/>
<rect x="565.41" y="214.20" width="18.56" height="4.40" fill="#e9f6b1"/>
<rect x="583.67" y="214.20" width="18.56" height="4.40" fill="#edf8b1"/>
<rect x="601.93" y="214.20" width="18.56" height="4.40" fill="#234aa7"/>
<rect x="620.18" y="214.20" width="18.56" height="4.40" fill="#225eaa"/>
<rect x="638.44" y="214.20" width="18.56" height="4.40" fill="#225eaa"/>
<rect x="547.15" y="218.30" width="18.56" height="3.70" fill="#e9f6b1"/>
<rect x="565.41" y="218.30" width="18.56" height="3.70" fill="#e9f6b1"/>
<rect x="583.67" y="218.30" width="18.56" height="3.70" fill="#e9f6b1"/>
<rect x="601.93" y="218.30" width="18.56" height="3.70" fill="#1d91c0"/>
<rect x="620.18" y="218.30" width="18.56" height="3.70" fill="#2078b5"/>
<rect x="638.44" y="218.30" width="18.56" height="3.70" fill="#225eaa"/>
<rect x="547.15" y="221.70" width="18.56" height="3.60" fill="#d6efb3"/>
<rect x="565.41" y="221.70" width="18.56" height="3.60" fill="#7fcdbb"/>
<rect x="583.67" y="221.70" width="18.56" height="3.60" fill="#d6efb3"/>
<rect x="601.93" y="221.70" width="18.56" height="3.60" fill="#2437a4"/>
<rect x="620.18" y="221.70" width="18.56" height="3.60" fill="#234aa7"/>
<rect x="638.44" y="221.70" width="18.56" height="3.60" fill="#2437a4"/>
<rect x="547.15" y="225.00" width="18.56" height="3.60" fill="#d6efb3"/>
<rect x="565.41" y="225.00" width="18.56" height="3.60" fill="#d6efb3"/>
<rect x="583.67" y="225.00" width="18.56" height="3.60" fill="#d6efb3"/>
<rect x="601.93" y="225.00" width="18.56" height="3.60" fill="#2437a4"/>
<rect x="620.18" y="225.00" width="18.56" height="3.60" fill="#2437a4"/>
<rect x="638.44" y="225.00" width="18.56" height="3.60" fill="#234aa7"/>
<rect x="547.15" y="228.30" width="18.56" height="3.70" fill="#c0e6b5"/>
<rect x="565.41" y="228.30" width="18.56" height="3.70" fill="#d6efb3"/>
<rect x="583.67" y="228.30" width="18.56" height="3.70" fill="#7fcdbb"/>
<rect x="601.93" y="228.30" width="18.56" height="3.70" fill="#182c86"/>
<rect x="620.18" y="228.30" width="18.56" height="3.70" fill="#1d91c0"/>
<rect x="638.44" y="228.30" width="18.56" height="3.70" fill="#182c86"/>
<rect x="547.15" y="231.70" width="18.56" height="4.40" fill="#e9f6b1"/>
<rect x="565.41" y="231.70" width="18.56" height="4.40" fill="#e9f6b1"/>
<rect x="583.67" y="231.70" width="18.56" height="4.40" fill="#e9f6b1"/>
<rect x="601.93" y="231.70" width="18.56" height="4.40" fill="#234aa7"/>
<rect x="620.18" y="231.70" width="18.56" height="4.40" fill="#234aa7"/>
<rect x="638.44" y="231.70" width="18.56" height="4.40" fill="#2437a4"/>
<rect x="547.15" y="235.80" width="18.56" height="3.80" fill="#d6efb3"/>
<rect x="565.41" y="235.80" width="18.56" height="3.80" fill="#d6efb3"/>
<rect x="583.67" y="235.80" width="18.56" height="3.80" fill="#d6efb3"/>
<rect x="601.93" y="235.80" width="18.56" height="3.80" fill="#234aa7"/>
<rect x="620.18" y="235.80" width="18.56" height="3.80" fill="#234aa7"/>
<rect x="638.44" y="235.80" width="18.56" height="3.80" fill="#2437a4"/>
<rect x="547.15" y="239.30" width="18.56" height="4.50" fill="#d6efb3"/>
<rect x="565.41" y="239.30" width="18.56" height="4.50" fill="#e9f6b1"/>
<rect x="583.67" y="239.30" width="18.56" height="4.50" fill="#c0e6b5"/>
<rect x="601.93" y="239.30" width="18.56" height="4.50" fill="#2437a4"/>
<rect x="620.18" y="239.30" width="18.56" height="4.50" fill="#234aa7"/>
<rect x="638.44" y="239.30" width="18.56" height="4.50" fill="#2437a4"/>
<rect x="547.15" y="243.50" width="18.56" height="3.60" fill="#d6efb3"/>
<rect x="565.41" y="243.50" width="18.56" height="3.60" fill="#d6efb3"/>
<rect x="583.67" y="243.50" width="18.56" height="3.60" fill="#d6efb3"/>
<rect x="601.93" y="243.50" width="18.56" height="3.60" fill="#234aa7"/>
<rect x="620.18" y="243.50" width="18.56" height="3.60" fill="#182c86"/>
<rect x="638.44" y="243.50" width="18.56" height="3.60" fill="#182c86"/>
<rect x="547.15" y="246.80" width="18.56" height="3.70" fill="#7fcdbb"/>
<rect x="565.41" y="246.80" width="18.56" height="3.70" fill="#41b6c4"/>
<rect x="583.67" y="246.80" width="18.56" height="3.70" fill="#7fcdbb"/>
<rect x="601.93" y="246.80" width="18.56" height="3.70" fill="#2437a4"/>
<rect x="620.18" y="246.80" width="18.56" height="3.70" fill="#182c86"/>
<rect x="638.44" y="246.80" width="18.56" height="3.70" fill="#0c2068"/>
<rect x="547.15" y="250.20" width="18.56" height="2.80" fill="#41b6c4"/>
<rect x="565.41" y="250.20" width="18.56" height="2.80" fill="#225eaa"/>
<rect x="583.67" y="250.20" width="18.56" height="2.80" fill="#7fcdbb"/>
<rect x="601.93" y="250.20" width="18.56" height="2.80" fill="#225eaa"/>
<rect x="620.18" y="250.20" width="18.56" height="2.80" fill="#225eaa"/>
<rect x="638.44" y="250.20" width="18.56" height="2.80" fill="#234aa7"/>
<rect x="547.15" y="252.70" width="18.56" height="4.40" fill="#1d91c0"/>
<rect x="565.41" y="252.70" width="18.56" height="4.40" fill="#225eaa"/>
<rect x="583.67" y="252.70" width="18.56" height="4.40" fill="#7fcdbb"/>
<rect x="601.93" y="252.70" width="18.56" height="4.40" fill="#2fa4c2"/>
<rect x="620.18" y="252.70" width="18.56" height="4.40" fill="#2fa4c2"/>
<rect x="638.44" y="252.70" width="18.56" height="4.40" fill="#2fa4c2"/>
<rect x="547.15" y="256.80" width="18.56" height="2.80" fill="#7fcdbb"/>
<rect x="565.41" y="256.80" width="18.56" height="2.80" fill="#7fcdbb"/>
<rect x="583.67" y="256.80" width="18.56" height="2.80" fill="#c0e6b5"/>
<rect x="601.93" y="256.80" width="18.56" height="2.80" fill="#1d91c0"/>
<rect x="620.18" y="256.80" width="18.56" height="2.80" fill="#1d91c0"/>
<rect x="638.44" y="256.80" width="18.56" height="2.80" fill="#1d91c0"/>
<rect x="547.15" y="259.30" width="18.56" height="4.50" fill="#edf8b1"/>
<rect x="565.41" y="259.30" width="18.56" height="4.50" fill="#daf0b2"/>
<rect x="583.67" y="259.30" width="18.56" height="4.50" fill="#daf0b2"/>
<rect x="601.93" y="259.30" width="18.56" height="4.50" fill="#225eaa"/>
<rect x="620.18" y="259.30" width="18.56" height="4.50" fill="#225eaa"/>
<rect x="638.44" y="259.30" width="18.56" height="4.50" fill="#225eaa"/>
<rect x="547.15" y="263.50" width="18.56" height="2.80" fill="#daf0b2"/>
<rect x="565.41" y="263.50" width="18.56" height="2.80" fill="#daf0b2"/>
<rect x="583.67" y="263.50" width="18.56" height="2.80" fill="#daf0b2"/>
<rect x="601.93" y="263.50" width="18.56" height="2.80" fill="#225eaa"/>
<rect x="620.18" y="263.50" width="18.56" height="2.80" fill="#2437a4"/>
<rect x="638.44" y="263.50" width="18.56" height="2.80" fill="#234aa7"/>
<rect x="547.15" y="266.00" width="18.56" height="3.60" fill="#daf0b2"/>
<rect x="565.41" y="266.00" width="18.56" height="3.60" fill="#edf8b1"/>
<rect x="583.67" y="266.00" width="18.56" height="3.60" fill="#daf0b2"/>
<rect x="601.93" y="266.00" width="18.56" height="3.60" fill="#2fa4c2"/>
<rect x="620.18" y="266.00" width="18.56" height="3.60" fill="#41b6c4"/>
<rect x="638.44" y="266.00" width="18.56" height="3.60" fill="#2fa4c2"/>
<rect x="547.15" y="269.30" width="18.56" height="3.70" fill="#daf0b2"/>
<rect x="565.41" y="269.30" width="18.56" height="3.70" fill="#daf0b2"/>
<rect x="583.67" y="269.30" width="18.56" height="3.70" fill="#daf0b2"/>
<rect x="601.93" y="269.30" width="18.56" height="3.70" fill="#2fa4c2"/>
<rect x="620.18" y="269.30" width="18.56" height="3.70" fill="#60c2c0"/>
<rect x="638.44" y="269.30" width="18.56" height="3.70" fill="#60c2c0"/>
<rect x="547.15" y="272.70" width="18.56" height="3.60" fill="#daf0b2"/>
<rect x="565.41" y="272.70" width="18.56" height="3.60" fill="#daf0b2"/>
<rect x="583.67" y="272.70" width="18.56" height="3.60" fill="#daf0b2"/>
<rect x="601.93" y="272.70" width="18.56" height="3.60" fill="#60c2c0"/>
<rect x="620.18" y="272.70" width="18.56" height="3.60" fill="#60c2c0"/>
<rect x="638.44" y="272.70" width="18.56" height="3.60" fill="#60c2c0"/>
<rect x="547.15" y="276.00" width="18.56" height="6.10" fill="#edf8b1"/>
<rect x="565.41" y="276.00" width="18.56" height="6.10" fill="#daf0b2"/>
<rect x="583.67" y="276.00" width="18.56" height="6.10" fill="#edf8b1"/>
<rect x="601.93" y="276.00" width="18.56" height="6.10" fill="#60c2c0"/>
<rect x="620.18" y="276.00" width="18.56" height="6.10" fill="#7fcdbb"/>
<rect x="638.44" y="276.00" width="18.56" height="6.10" fill="#7fcdbb"/>
<rect x="601.93" y="127.70" width="18.56" height="3.20" fill="#2fa4c2"/>
<rect x="620.18" y="127.70" width="18.56" height="3.20" fill="#2fa4c2"/>
<rect x="638.44" y="127.70" width="18.56" height="3.20" fill="#2fa4c2"/>
<rect x="601.93" y="130.60" width="18.56" height="3.70" fill="#1d91c0"/>
<rect x="620.18" y="130.60" width="18.56" height="3.70" fill="#2fa4c2"/>
<rect x="638.44" y="130.60" width="18.56" height="3.70" fill="#1d91c0"/>
<rect x="601.93" y="134.00" width="18.56" height="3.80" fill="#41b6c4"/>
<rect x="620.18" y="134.00" width="18.56" height="3.80" fill="#2fa4c2"/>
<rect x="638.44" y="134.00" width="18.56" height="3.80" fill="#60c2c0"/>
<rect x="601.93" y="137.50" width="18.56" height="2.80" fill="#2fa4c2"/>
<rect x="620.18" y="137.50" width="18.56" height="2.80" fill="#1d91c0"/>
<rect x="638.44" y="137.50" width="18.56" height="2.80" fill="#7fcdbb"/>
<rect x="601.93" y="140.00" width="18.56" height="2.30" fill="#a3dbb8"/>
<rect x="620.18" y="140.00" width="18.56" height="2.30" fill="#2fa4c2"/>
<rect x="638.44" y="140.00" width="18.56" height="2.30" fill="#7fcdbb"/>
<rect x="601.93" y="142.00" width="18.56" height="3.70" fill="#2fa4c2"/>
<rect x="620.18" y="142.00" width="18.56" height="3.70" fill="#1d91c0"/>
<rect x="638.44" y="142.00" width="18.56" height="3.70" fill="#2fa4c2"/>
<rect x="601.93" y="145.40" width="18.56" height="4.60" fill="#41b6c4"/>
<rect x="620.18" y="145.40" width="18.56" height="4.60" fill="#41b6c4"/>
<rect x="638.44" y="145.40" width="18.56" height="4.60" fill="#41b6c4"/>
<rect x="601.93" y="149.70" width="18.56" height="4.60" fill="#60c2c0"/>
<rect x="620.18" y="149.70" width="18.56" height="4.60" fill="#60c2c0"/>
<rect x="638.44" y="149.70" width="18.56" height="4.60" fill="#41b6c4"/>
<rect x="601.93" y="154.00" width="18.56" height="2.90" fill="#60c2c0"/>
<rect x="620.18" y="154.00" width="18.56" height="2.90" fill="#7fcdbb"/>
<rect x="638.44" y="154.00" width="18.56" height="2.90" fill="#60c2c0"/>
<rect x="601.93" y="156.60" width="18.56" height="3.70" fill="#2fa4c2"/>
<rect x="620.18" y="156.60" width="18.56" height="3.70" fill="#7fcdbb"/>
<rect x="638.44" y="156.60" width="18.56" height="3.70" fill="#60c2c0"/>
<rect x="601.93" y="160.00" width="18.56" height="3.90" fill="#1d91c0"/>
<rect x="620.18" y="160.00" width="18.56" height="3.90" fill="#41b6c4"/>
<rect x="638.44" y="160.00" width="18.56" height="3.90" fill="#60c2c0"/>
<rect x="601.93" y="163.60" width="18.56" height="4.70" fill="#41b6c4"/>
<rect x="620.18" y="163.60" width="18.56" height="4.70" fill="#41b6c4"/>
<rect x="638.44" y="163.60" width="18.56" height="4.70" fill="#41b6c4"/>
<rect x="601.93" y="168.00" width="18.56" height="3.70" fill="#60c2c0"/>
<rect x="620.18" y="168.00" width="18.56" height="3.70" fill="#60c2c0"/>
<rect x="638.44" y="168.00" width="18.56" height="3.70" fill="#7fcdbb"/>
<rect x="601.93" y="171.40" width="18.56" height="3.90" fill="#41b6c4"/>
<rect x="620.18" y="171.40" width="18.56" height="3.90" fill="#2fa4c2"/>
<rect x="638.44" y="171.40" width="18.56" height="3.90" fill="#7fcdbb"/>
<rect x="601.93" y="175.00" width="18.56" height="3.60" fill="#1d91c0"/>
<rect x="620.18" y="175.00" width="18.56" height="3.60" fill="#60c2c0"/>
<rect x="638.44" y="175.00" width="18.56" height="3.60" fill="#1d91c0"/>
<rect x="601.93" y="178.30" width="18.56" height="2.00" fill="#2078b5"/>
<rect x="620.18" y="178.30" width="18.56" height="2.00" fill="#2078b5"/>
<rect x="638.44" y="178.30" width="18.56" height="2.00" fill="#234aa7"/>
<rect x="601.93" y="180.00" width="18.56" height="4.70" fill="#1d91c0"/>
<rect x="620.18" y="180.00" width="18.56" height="4.70" fill="#1d91c0"/>
<rect x="638.44" y="180.00" width="18.56" height="4.70" fill="#2078b5"/>
<rect x="601.93" y="184.40" width="18.56" height="5.90" fill="#2078b5"/>
<rect x="620.18" y="184.40" width="18.56" height="5.90" fill="#2078b5"/>
<rect x="638.44" y="184.40" width="18.56" height="5.90" fill="#2078b5"/>
<rect x="601.93" y="190.00" width="18.56" height="5.80" fill="#225eaa"/>
<rect x="620.18" y="190.00" width="18.56" height="5.80" fill="#225eaa"/>
<rect x="638.44" y="190.00" width="18.56" height="5.80" fill="#225eaa"/>
<rect x="601.93" y="195.50" width="18.56" height="6.80" fill="#234aa7"/>
<rect x="620.18" y="195.50" width="18.56" height="6.80" fill="#234aa7"/>
<rect x="638.44" y="195.50" width="18.56" height="6.80" fill="#234aa7"/>
<rect x="601.93" y="202.00" width="18.56" height="5.90" fill="#225eaa"/>
<rect x="620.18" y="202.00" width="18.56" height="5.90" fill="#234aa7"/>
<rect x="638.44" y="202.00" width="18.56" height="5.90" fill="#234aa7"/>
<rect x="601.93" y="207.60" width="18.56" height="5.70" fill="#234aa7"/>
<rect x="620.18" y="207.60" width="18.56" height="5.70" fill="#225eaa"/>
<rect x="638.44" y="207.60" width="18.56" height="5.70" fill="#234aa7"/>
<rect x="601.93" y="213.00" width="18.56" height="3.70" fill="#225eaa"/>
<rect x="620.18" y="213.00" width="18.56" height="3.70" fill="#2078b5"/>
<rect x="638.44" y="213.00" width="18.56" height="3.70" fill="#234aa7"/>
<rect x="601.93" y="216.40" width="18.56" height="5.90" fill="#234aa7"/>
<rect x="620.18" y="216.40" width="18.56" height="5.90" fill="#225eaa"/>
<rect x="638.44" y="216.40" width="18.56" height="5.90" fill="#2437a4"/>
<rect x="601.93" y="222.00" width="18.56" height="8.00" fill="#2437a4"/>
<rect x="620.18" y="222.00" width="18.56" height="8.00" fill="#234aa7"/>
<rect x="638.44" y="222.00" width="18.56" height="8.00" fill="#2437a4"/>
<rect x="601.93" y="229.70" width="18.56" height="3.60" fill="#182c86"/>
<rect x="620.18" y="229.70" width="18.56" height="3.60" fill="#2078b5"/>
<rect x="638.44" y="229.70" width="18.56" height="3.60" fill="#182c86"/>
<rect x="601.93" y="233.00" width="18.56" height="9.10" fill="#234aa7"/>
<rect x="620.18" y="233.00" width="18.56" height="9.10" fill="#234aa7"/>
<rect x="638.44" y="233.00" width="18.56" height="9.10" fill="#2437a4"/>
<rect x="601.93" y="241.80" width="18.56" height="5.30" fill="#234aa7"/>
<rect x="620.18" y="241.80" width="18.56" height="5.30" fill="#2437a4"/>
<rect x="638.44" y="241.80" width="18.56" height="5.30" fill="#182c86"/>
<rect x="601.93" y="246.80" width="18.56" height="4.80" fill="#234aa7"/>
<rect x="620.18" y="246.80" width="18.56" height="4.80" fill="#0c2068"/>
<rect x="638.44" y="246.80" width="18.56" height="4.80" fill="#0c2068"/>
<rect x="601.93" y="251.30" width="18.56" height="3.00" fill="#2078b5"/>
<rect x="620.18" y="251.30" width="18.56" height="3.00" fill="#1d91c0"/>
<rect x="638.44" y="251.30" width="18.56" height="3.00" fill="#2fa4c2"/>
<rect x="601.93" y="254.00" width="18.56" height="5.50" fill="#2fa4c2"/>
<rect x="620.18" y="254.00" width="18.56" height="5.50" fill="#2fa4c2"/>
<rect x="638.44" y="254.00" width="18.56" height="5.50" fill="#41b6c4"/>
<rect x="601.93" y="259.20" width="18.56" height="2.90" fill="#2078b5"/>
<rect x="620.18" y="259.20" width="18.56" height="2.90" fill="#225eaa"/>
<rect x="638.44" y="259.20" width="18.56" height="2.90" fill="#225eaa"/>
<rect x="601.93" y="261.80" width="18.56" height="3.80" fill="#225eaa"/>
<rect x="620.18" y="261.80" width="18.56" height="3.80" fill="#225eaa"/>
<rect x="638.44" y="261.80" width="18.56" height="3.80" fill="#234aa7"/>
<rect x="601.93" y="265.30" width="18.56" height="3.70" fill="#2fa4c2"/>
<rect x="620.18" y="265.30" width="18.56" height="3.70" fill="#41b6c4"/>
<rect x="638.44" y="265.30" width="18.56" height="3.70" fill="#2fa4c2"/>
<rect x="601.93" y="268.70" width="18.56" height="4.70" fill="#41b6c4"/>
<rect x="620.18" y="268.70" width="18.56" height="4.70" fill="#60c2c0"/>
<rect x="638.44" y="268.70" width="18.56" height="4.70" fill="#60c2c0"/>
<rect x="601.93" y="273.10" width="18.56" height="9.00" fill="#7fcdbb"/>
<rect x="620.18" y="273.10" width="18.56" height="9.00" fill="#7fcdbb"/>
<rect x="638.44" y="273.10" width="18.56" height="9.00" fill="#7fcdbb"/>
<rect x="437.60" y="109.00" width="18.56" height="3.10" fill="#2fa4c2"/>
<rect x="455.86" y="109.00" width="18.56" height="3.10" fill="#41b6c4"/>
<rect x="474.12" y="109.00" width="18.56" height="3.10" fill="#2078b5"/>
<rect x="437.60" y="111.80" width="18.56" height="2.50" fill="#2fa4c2"/>
<rect x="455.86" y="111.80" width="18.56" height="2.50" fill="#2fa4c2"/>
<rect x="474.12" y="111.80" width="18.56" height="2.50" fill="#2fa4c2"/>
<rect x="437.60" y="114.00" width="18.56" height="5.70" fill="#1d91c0"/>
<rect x="455.86" y="114.00" width="18.56" height="5.70" fill="#2fa4c2"/>
<rect x="474.12" y="114.00" width="18.56" height="5.70" fill="#2fa4c2"/>
<rect x="437.60" y="119.40" width="18.56" height="4.10" fill="#7fcdbb"/>
<rect x="455.86" y="119.40" width="18.56" height="4.10" fill="#60c2c0"/>
<rect x="474.12" y="119.40" width="18.56" height="4.10" fill="#60c2c0"/>
<rect x="437.60" y="123.20" width="18.56" height="4.10" fill="#7fcdbb"/>
<rect x="455.86" y="123.20" width="18.56" height="4.10" fill="#60c2c0"/>
<rect x="474.12" y="123.20" width="18.56" height="4.10" fill="#a3dbb8"/>
<rect x="437.60" y="127.00" width="18.56" height="6.60" fill="#41b6c4"/>
<rect x="455.86" y="127.00" width="18.56" height="6.60" fill="#60c2c0"/>
<rect x="474.12" y="127.00" width="18.56" height="6.60" fill="#60c2c0"/>
<rect x="437.60" y="133.30" width="18.56" height="4.00" fill="#41b6c4"/>
<rect x="455.86" y="133.30" width="18.56" height="4.00" fill="#41b6c4"/>
<rect x="474.12" y="133.30" width="18.56" height="4.00" fill="#41b6c4"/>
<rect x="437.60" y="137.00" width="18.56" height="5.30" fill="#7fcdbb"/>
<rect x="455.86" y="137.00" width="18.56" height="5.30" fill="#7fcdbb"/>
<rect x="474.12" y="137.00" width="18.56" height="5.30" fill="#7fcdbb"/>
<rect x="437.60" y="142.00" width="18.56" height="6.70" fill="#a3dbb8"/>
<rect x="455.86" y="142.00" width="18.56" height="6.70" fill="#c7e9b4"/>
<rect x="474.12" y="142.00" width="18.56" height="6.70" fill="#a3dbb8"/>
<rect x="437.60" y="148.40" width="18.56" height="4.10" fill="#2fa4c2"/>
<rect x="455.86" y="148.40" width="18.56" height="4.10" fill="#41b6c4"/>
<rect x="474.12" y="148.40" width="18.56" height="4.10" fill="#2fa4c2"/>
<rect x="437.60" y="152.20" width="18.56" height="5.30" fill="#1d91c0"/>
<rect x="455.86" y="152.20" width="18.56" height="5.30" fill="#2fa4c2"/>
<rect x="474.12" y="152.20" width="18.56" height="5.30" fill="#1d91c0"/>
<rect x="437.60" y="157.20" width="18.56" height="5.40" fill="#2fa4c2"/>
<rect x="455.86" y="157.20" width="18.56" height="5.40" fill="#2fa4c2"/>
<rect x="474.12" y="157.20" width="18.56" height="5.40" fill="#41b6c4"/>
<rect x="437.60" y="162.30" width="18.56" height="5.30" fill="#2fa4c2"/>
<rect x="455.86" y="162.30" width="18.56" height="5.30" fill="#1d91c0"/>
<rect x="474.12" y="162.30" width="18.56" height="5.30" fill="#2fa4c2"/>
<rect x="437.60" y="167.30" width="18.56" height="4.10" fill="#1d91c0"/>
<rect x="455.86" y="167.30" width="18.56" height="4.10" fill="#2078b5"/>
<rect x="474.12" y="167.30" width="18.56" height="4.10" fill="#2fa4c2"/>
<rect x="437.60" y="171.10" width="18.56" height="5.40" fill="#2fa4c2"/>
<rect x="455.86" y="171.10" width="18.56" height="5.40" fill="#2078b5"/>
<rect x="474.12" y="171.10" width="18.56" height="5.40" fill="#1d91c0"/>
<rect x="437.60" y="176.20" width="18.56" height="4.10" fill="#c7e9b4"/>
<rect x="455.86" y="176.20" width="18.56" height="4.10" fill="#a3dbb8"/>
<rect x="474.12" y="176.20" width="18.56" height="4.10" fill="#c7e9b4"/>
<rect x="437.60" y="180.00" width="18.56" height="4.10" fill="#a3dbb8"/>
<rect x="455.86" y="180.00" width="18.56" height="4.10" fill="#7fcdbb"/>
<rect x="474.12" y="180.00" width="18.56" height="4.10" fill="#a3dbb8"/>
<rect x="437.60" y="183.80" width="18.56" height="2.50" fill="#c7e9b4"/>
<rect x="455.86" y="183.80" width="18.56" height="2.50" fill="#c7e9b4"/>
<rect x="474.12" y="183.80" width="18.56" height="2.50" fill="#a3dbb8"/>
<rect x="437.60" y="186.00" width="18.56" height="4.50" fill="#7fcdbb"/>
<rect x="455.86" y="186.00" width="18.56" height="4.50" fill="#7fcdbb"/>
<rect x="474.12" y="186.00" width="18.56" height="4.50" fill="#41b6c4"/>
<rect x="437.60" y="190.20" width="18.56" height="6.90" fill="#b1e1b6"/>
<rect x="455.86" y="190.20" width="18.56" height="6.90" fill="#b1e1b6"/>
<rect x="474.12" y="190.20" width="18.56" height="6.90" fill="#b1e1b6"/>
<rect x="437.60" y="196.80" width="18.56" height="1.50" fill="#a3dbb8"/>
<rect x="455.86" y="196.80" width="18.56" height="1.50" fill="#7fcdbb"/>
<rect x="474.12" y="196.80" width="18.56" height="1.50" fill="#a3dbb8"/>
<rect x="437.60" y="198.00" width="18.56" height="1.80" fill="#a3dbb8"/>
<rect x="455.86" y="198.00" width="18.56" height="1.80" fill="#60c2c0"/>
<rect x="474.12" y="198.00" width="18.56" height="1.80" fill="#a3dbb8"/>
<rect x="437.60" y="199.50" width="18.56" height="2.00" fill="#b1e1b6"/>
<rect x="455.86" y="199.50" width="18.56" height="2.00" fill="#a3dbb8"/>
<rect x="474.12" y="199.50" width="18.56" height="2.00" fill="#b1e1b6"/>
<rect x="437.60" y="201.20" width="18.56" height="4.80" fill="#c7e9b4"/>
<rect x="455.86" y="201.20" width="18.56" height="4.80" fill="#60c2c0"/>
<rect x="474.12" y="201.20" width="18.56" height="4.80" fill="#b1e1b6"/>
<rect x="437.60" y="205.70" width="18.56" height="6.90" fill="#7fcdbb"/>
<rect x="455.86" y="205.70" width="18.56" height="6.90" fill="#7fcdbb"/>
<rect x="474.12" y="205.70" width="18.56" height="6.90" fill="#7fcdbb"/>
<rect x="437.60" y="212.30" width="18.56" height="4.70" fill="#c7e9b4"/>
<rect x="455.86" y="212.30" width="18.56" height="4.70" fill="#c7e9b4"/>
<rect x="474.12" y="212.30" width="18.56" height="4.70" fill="#c7e9b4"/>
<rect x="437.60" y="216.70" width="18.56" height="5.80" fill="#60c2c0"/>
<rect x="455.86" y="216.70" width="18.56" height="5.80" fill="#daf0b2"/>
<rect x="474.12" y="216.70" width="18.56" height="5.80" fill="#2fa4c2"/>
<rect x="437.60" y="222.20" width="18.56" height="6.90" fill="#b1e1b6"/>
<rect x="455.86" y="222.20" width="18.56" height="6.90" fill="#c7e9b4"/>
<rect x="474.12" y="222.20" width="18.56" height="6.90" fill="#b1e1b6"/>
<rect x="437.60" y="228.80" width="18.56" height="3.70" fill="#6cc6be"/>
<rect x="455.86" y="228.80" width="18.56" height="3.70" fill="#7fcdbb"/>
<rect x="474.12" y="228.80" width="18.56" height="3.70" fill="#7fcdbb"/>
<rect x="437.60" y="232.20" width="18.56" height="11.30" fill="#c7e9b4"/>
<rect x="455.86" y="232.20" width="18.56" height="11.30" fill="#c7e9b4"/>
<rect x="474.12" y="232.20" width="18.56" height="11.30" fill="#c7e9b4"/>
<rect x="437.60" y="243.20" width="18.56" height="3.60" fill="#41b6c4"/>
<rect x="455.86" y="243.20" width="18.56" height="3.60" fill="#60c2c0"/>
<rect x="474.12" y="243.20" width="18.56" height="3.60" fill="#60c2c0"/>
<rect x="437.60" y="246.50" width="18.56" height="5.10" fill="#b9e3b5"/>
<rect x="455.86" y="246.50" width="18.56" height="5.10" fill="#b9e3b5"/>
<rect x="474.12" y="246.50" width="18.56" height="5.10" fill="#b9e3b5"/>
<rect x="437.60" y="251.30" width="18.56" height="3.00" fill="#daf0b2"/>
<rect x="455.86" y="251.30" width="18.56" height="3.00" fill="#7fcdbb"/>
<rect x="474.12" y="251.30" width="18.56" height="3.00" fill="#daf0b2"/>
<rect x="437.60" y="254.00" width="18.56" height="5.60" fill="#edf8b1"/>
<rect x="455.86" y="254.00" width="18.56" height="5.60" fill="#edf8b1"/>
<rect x="474.12" y="254.00" width="18.56" height="5.60" fill="#edf8b1"/>
<rect x="492.38" y="130.00" width="18.56" height="3.60" fill="#2437a4"/>
<rect x="510.63" y="130.00" width="18.56" height="3.60" fill="#2437a4"/>
<rect x="528.89" y="130.00" width="18.56" height="3.60" fill="#2437a4"/>
<rect x="492.38" y="133.30" width="18.56" height="2.00" fill="#234aa7"/>
<rect x="510.63" y="133.30" width="18.56" height="2.00" fill="#234aa7"/>
<rect x="528.89" y="133.30" width="18.56" height="2.00" fill="#234aa7"/>
<rect x="492.38" y="135.00" width="18.56" height="1.90" fill="#2078b5"/>
<rect x="510.63" y="135.00" width="18.56" height="1.90" fill="#234aa7"/>
<rect x="528.89" y="135.00" width="18.56" height="1.90" fill="#234aa7"/>
<rect x="492.38" y="136.60" width="18.56" height="3.50" fill="#2437a4"/>
<rect x="510.63" y="136.60" width="18.56" height="3.50" fill="#234aa7"/>
<rect x="528.89" y="136.60" width="18.56" height="3.50" fill="#2437a4"/>
<rect x="492.38" y="139.80" width="18.56" height="1.20" fill="#2437a4"/>
<rect x="510.63" y="139.80" width="18.56" height="1.20" fill="#234aa7"/>
<rect x="528.89" y="139.80" width="18.56" height="1.20" fill="#1d91c0"/>
<rect x="492.38" y="140.70" width="18.56" height="2.70" fill="#2437a4"/>
<rect x="510.63" y="140.70" width="18.56" height="2.70" fill="#225eaa"/>
<rect x="528.89" y="140.70" width="18.56" height="2.70" fill="#2437a4"/>
<rect x="492.38" y="143.10" width="18.56" height="1.90" fill="#0c2068"/>
<rect x="510.63" y="143.10" width="18.56" height="1.90" fill="#234aa7"/>
<rect x="528.89" y="143.10" width="18.56" height="1.90" fill="#2437a4"/>
<rect x="492.38" y="144.70" width="18.56" height="2.00" fill="#0c2068"/>
<rect x="510.63" y="144.70" width="18.56" height="2.00" fill="#1d91c0"/>
<rect x="528.89" y="144.70" width="18.56" height="2.00" fill="#2437a4"/>
<rect x="492.38" y="146.40" width="18.56" height="3.60" fill="#0c2068"/>
<rect x="510.63" y="146.40" width="18.56" height="3.60" fill="#234aa7"/>
<rect x="528.89" y="146.40" width="18.56" height="3.60" fill="#2437a4"/>
<rect x="492.38" y="149.70" width="18.56" height="1.10" fill="#0c2068"/>
<rect x="510.63" y="149.70" width="18.56" height="1.10" fill="#1d91c0"/>
<rect x="528.89" y="149.70" width="18.56" height="1.10" fill="#2437a4"/>
<rect x="492.38" y="150.50" width="18.56" height="3.80" fill="#2437a4"/>
<rect x="510.63" y="150.50" width="18.56" height="3.80" fill="#2437a4"/>
<rect x="528.89" y="150.50" width="18.56" height="3.80" fill="#234aa7"/>
<rect x="492.38" y="154.00" width="18.56" height="0.90" fill="#2437a4"/>
<rect x="510.63" y="154.00" width="18.56" height="0.90" fill="#2437a4"/>
<rect x="528.89" y="154.00" width="18.56" height="0.90" fill="#1d91c0"/>
<rect x="492.38" y="154.60" width="18.56" height="3.60" fill="#234aa7"/>
<rect x="510.63" y="154.60" width="18.56" height="3.60" fill="#234aa7"/>
<rect x="528.89" y="154.60" width="18.56" height="3.60" fill="#2437a4"/>
<rect x="492.38" y="157.90" width="18.56" height="3.50" fill="#225eaa"/>
<rect x="510.63" y="157.90" width="18.56" height="3.50" fill="#225eaa"/>
<rect x="528.89" y="157.90" width="18.56" height="3.50" fill="#234aa7"/>
<rect x="492.38" y="161.10" width="18.56" height="4.40" fill="#225eaa"/>
<rect x="510.63" y="161.10" width="18.56" height="4.40" fill="#234aa7"/>
<rect x="528.89" y="161.10" width="18.56" height="4.40" fill="#2437a4"/>
<rect x="492.38" y="165.20" width="18.56" height="2.80" fill="#1d91c0"/>
<rect x="510.63" y="165.20" width="18.56" height="2.80" fill="#225eaa"/>
<rect x="528.89" y="165.20" width="18.56" height="2.80" fill="#2437a4"/>
<rect x="492.38" y="167.70" width="18.56" height="3.60" fill="#234aa7"/>
<rect x="510.63" y="167.70" width="18.56" height="3.60" fill="#225eaa"/>
<rect x="528.89" y="167.70" width="18.56" height="3.60" fill="#234aa7"/>
<rect x="492.38" y="171.00" width="18.56" height="3.60" fill="#2437a4"/>
<rect x="510.63" y="171.00" width="18.56" height="3.60" fill="#1d91c0"/>
<rect x="528.89" y="171.00" width="18.56" height="3.60" fill="#234aa7"/>
<rect x="492.38" y="174.30" width="18.56" height="4.40" fill="#2437a4"/>
<rect x="510.63" y="174.30" width="18.56" height="4.40" fill="#234aa7"/>
<rect x="528.89" y="174.30" width="18.56" height="4.40" fill="#234aa7"/>
<rect x="492.38" y="178.40" width="18.56" height="1.90" fill="#234aa7"/>
<rect x="510.63" y="178.40" width="18.56" height="1.90" fill="#234aa7"/>
<rect x="528.89" y="178.40" width="18.56" height="1.90" fill="#182c86"/>
<rect x="492.38" y="180.00" width="18.56" height="3.60" fill="#234aa7"/>
<rect x="510.63" y="180.00" width="18.56" height="3.60" fill="#234aa7"/>
<rect x="528.89" y="180.00" width="18.56" height="3.60" fill="#182c86"/>
<rect x="492.38" y="183.30" width="18.56" height="5.80" fill="#2437a4"/>
<rect x="510.63" y="183.30" width="18.56" height="5.80" fill="#234aa7"/>
<rect x="528.89" y="183.30" width="18.56" height="5.80" fill="#234aa7"/>
<rect x="492.38" y="188.80" width="18.56" height="5.80" fill="#234aa7"/>
<rect x="510.63" y="188.80" width="18.56" height="5.80" fill="#234aa7"/>
<rect x="528.89" y="188.80" width="18.56" height="5.80" fill="#225eaa"/>
<rect x="492.38" y="194.30" width="18.56" height="3.70" fill="#1d91c0"/>
<rect x="510.63" y="194.30" width="18.56" height="3.70" fill="#1d91c0"/>
<rect x="528.89" y="194.30" width="18.56" height="3.70" fill="#2078b5"/>
<rect x="492.38" y="197.70" width="18.56" height="5.80" fill="#225eaa"/>
<rect x="510.63" y="197.70" width="18.56" height="5.80" fill="#2078b5"/>
<rect x="528.89" y="197.70" width="18.56" height="5.80" fill="#225eaa"/>
<rect x="492.38" y="203.20" width="18.56" height="4.70" fill="#2078b5"/>
<rect x="510.63" y="203.20" width="18.56" height="4.70" fill="#2fa4c2"/>
<rect x="528.89" y="203.20" width="18.56" height="4.70" fill="#2078b5"/>
<rect x="492.38" y="207.60" width="18.56" height="5.80" fill="#225eaa"/>
<rect x="510.63" y="207.60" width="18.56" height="5.80" fill="#2fa4c2"/>
<rect x="528.89" y="207.60" width="18.56" height="5.80" fill="#2078b5"/>
<rect x="492.38" y="213.10" width="18.56" height="5.80" fill="#225eaa"/>
<rect x="510.63" y="213.10" width="18.56" height="5.80" fill="#225eaa"/>
<rect x="528.89" y="213.10" width="18.56" height="5.80" fill="#225eaa"/>
<rect x="492.38" y="218.60" width="18.56" height="3.70" fill="#234aa7"/>
<rect x="510.63" y="218.60" width="18.56" height="3.70" fill="#225eaa"/>
<rect x="528.89" y="218.60" width="18.56" height="3.70" fill="#2437a4"/>
<rect x="492.38" y="222.00" width="18.56" height="5.80" fill="#2fa4c2"/>
<rect x="510.63" y="222.00" width="18.56" height="5.80" fill="#2fa4c2"/>
<rect x="528.89" y="222.00" width="18.56" height="5.80" fill="#2fa4c2"/>
<rect x="492.38" y="227.50" width="18.56" height="2.80" fill="#2fa4c2"/>
<rect x="510.63" y="227.50" width="18.56" height="2.80" fill="#1d91c0"/>
<rect x="528.89" y="227.50" width="18.56" height="2.80" fill="#60c2c0"/>
<rect x="492.38" y="230.00" width="18.56" height="3.30" fill="#2fa4c2"/>
<rect x="510.63" y="230.00" width="18.56" height="3.30" fill="#1d91c0"/>
<rect x="528.89" y="230.00" width="18.56" height="3.30" fill="#41b6c4"/>
<rect x="492.38" y="233.00" width="18.56" height="4.70" fill="#2078b5"/>
<rect x="510.63" y="233.00" width="18.56" height="4.70" fill="#2078b5"/>
<rect x="528.89" y="233.00" width="18.56" height="4.70" fill="#2078b5"/>
<rect x="492.38" y="237.40" width="18.56" height="5.90" fill="#1d91c0"/>
<rect x="510.63" y="237.40" width="18.56" height="5.90" fill="#2fa4c2"/>
<rect x="528.89" y="237.40" width="18.56" height="5.90" fill="#1d91c0"/>
<rect x="492.38" y="243.00" width="18.56" height="2.30" fill="#1d91c0"/>
<rect x="510.63" y="243.00" width="18.56" height="2.30" fill="#1d91c0"/>
<rect x="528.89" y="243.00" width="18.56" height="2.30" fill="#1d91c0"/>
<rect x="492.38" y="245.00" width="18.56" height="1.80" fill="#41b6c4"/>
<rect x="510.63" y="245.00" width="18.56" height="1.80" fill="#41b6c4"/>
<rect x="528.89" y="245.00" width="18.56" height="1.80" fill="#41b6c4"/>
<rect x="492.38" y="246.50" width="18.56" height="3.10" fill="#2fa4c2"/>
<rect x="510.63" y="246.50" width="18.56" height="3.10" fill="#2fa4c2"/>
<rect x="528.89" y="246.50" width="18.56" height="3.10" fill="#2fa4c2"/>
<rect x="547.15" y="34.80" width="18.56" height="4.10" fill="#2437a4"/>
<rect x="565.41" y="34.80" width="18.56" height="4.10" fill="#2437a4"/>
<rect x="583.67" y="34.80" width="18.56" height="4.10" fill="#2437a4"/>
<rect x="547.15" y="38.60" width="18.56" height="3.60" fill="#234aa7"/>
<rect x="565.41" y="38.60" width="18.56" height="3.60" fill="#2437a4"/>
<rect x="583.67" y="38.60" width="18.56" height="3.60" fill="#182c86"/>
<rect x="547.15" y="41.90" width="18.56" height="3.60" fill="#2437a4"/>
<rect x="565.41" y="41.90" width="18.56" height="3.60" fill="#182c86"/>
<rect x="583.67" y="41.90" width="18.56" height="3.60" fill="#2437a4"/>
<rect x="547.15" y="45.20" width="18.56" height="3.70" fill="#2437a4"/>
<rect x="565.41" y="45.20" width="18.56" height="3.70" fill="#0c2068"/>
<rect x="583.67" y="45.20" width="18.56" height="3.70" fill="#225eaa"/>
<rect x="547.15" y="48.60" width="18.56" height="4.70" fill="#234aa7"/>
<rect x="565.41" y="48.60" width="18.56" height="4.70" fill="#182c86"/>
<rect x="583.67" y="48.60" width="18.56" height="4.70" fill="#2078b5"/>
<rect x="547.15" y="53.00" width="18.56" height="5.80" fill="#225eaa"/>
<rect x="565.41" y="53.00" width="18.56" height="5.80" fill="#225eaa"/>
<rect x="583.67" y="53.00" width="18.56" height="5.80" fill="#225eaa"/>
<rect x="547.15" y="58.50" width="18.56" height="6.90" fill="#c7e9b4"/>
<rect x="565.41" y="58.50" width="18.56" height="6.90" fill="#c7e9b4"/>
<rect x="583.67" y="58.50" width="18.56" height="6.90" fill="#c7e9b4"/>
<rect x="547.15" y="65.10" width="18.56" height="3.60" fill="#7fcdbb"/>
<rect x="565.41" y="65.10" width="18.56" height="3.60" fill="#a3dbb8"/>
<rect x="583.67" y="65.10" width="18.56" height="3.60" fill="#7fcdbb"/>
<rect x="547.15" y="68.40" width="18.56" height="3.60" fill="#daf0b2"/>
<rect x="565.41" y="68.40" width="18.56" height="3.60" fill="#daf0b2"/>
<rect x="583.67" y="68.40" width="18.56" height="3.60" fill="#daf0b2"/>
<rect x="547.15" y="71.70" width="18.56" height="4.80" fill="#7fcdbb"/>
<rect x="565.41" y="71.70" width="18.56" height="4.80" fill="#7fcdbb"/>
<rect x="583.67" y="71.70" width="18.56" height="4.80" fill="#7fcdbb"/>
<rect x="547.15" y="76.20" width="18.56" height="11.30" fill="#4dbbc2"/>
<rect x="565.41" y="76.20" width="18.56" height="11.30" fill="#4dbbc2"/>
<rect x="583.67" y="76.20" width="18.56" height="11.30" fill="#60c2c0"/>
<rect x="547.15" y="87.20" width="18.56" height="2.10" fill="#1d91c0"/>
<rect x="565.41" y="87.20" width="18.56" height="2.10" fill="#1d91c0"/>
<rect x="583.67" y="87.20" width="18.56" height="2.10" fill="#1d91c0"/>
<rect x="547.15" y="89.00" width="18.56" height="1.80" fill="#1d91c0"/>
<rect x="565.41" y="89.00" width="18.56" height="1.80" fill="#1d91c0"/>
<rect x="583.67" y="89.00" width="18.56" height="1.80" fill="#234aa7"/>
<rect x="547.15" y="90.50" width="18.56" height="1.40" fill="#1d91c0"/>
<rect x="565.41" y="90.50" width="18.56" height="1.40" fill="#1d91c0"/>
<rect x="583.67" y="90.50" width="18.56" height="1.40" fill="#1d91c0"/>
<rect x="547.15" y="91.60" width="18.56" height="6.90" fill="#2fa4c2"/>
<rect x="565.41" y="91.60" width="18.56" height="6.90" fill="#2fa4c2"/>
<rect x="583.67" y="91.60" width="18.56" height="6.90" fill="#41b6c4"/>
<rect x="547.15" y="240.00" width="18.56" height="4.70" fill="#d6efb3"/>
<rect x="565.41" y="240.00" width="18.56" height="4.70" fill="#d6efb3"/>
<rect x="583.67" y="240.00" width="18.56" height="4.70" fill="#c0e6b5"/>
<rect x="547.15" y="244.40" width="18.56" height="2.90" fill="#d6efb3"/>
<rect x="565.41" y="244.40" width="18.56" height="2.90" fill="#d6efb3"/>
<rect x="583.67" y="244.40" width="18.56" height="2.90" fill="#d6efb3"/>
<rect x="547.15" y="247.00" width="18.56" height="3.80" fill="#7fcdbb"/>
<rect x="565.41" y="247.00" width="18.56" height="3.80" fill="#41b6c4"/>
<rect x="583.67" y="247.00" width="18.56" height="3.80" fill="#7fcdbb"/>
<rect x="547.15" y="250.50" width="18.56" height="2.00" fill="#60c2c0"/>
<rect x="565.41" y="250.50" width="18.56" height="2.00" fill="#41b6c4"/>
<rect x="583.67" y="250.50" width="18.56" height="2.00" fill="#7fcdbb"/>
<rect x="547.15" y="252.20" width="18.56" height="6.40" fill="#2fa4c2"/>
<rect x="565.41" y="252.20" width="18.56" height="6.40" fill="#225eaa"/>
<rect x="583.67" y="252.20" width="18.56" height="6.40" fill="#7fcdbb"/>
<rect x="547.15" y="258.30" width="18.56" height="2.00" fill="#7fcdbb"/>
<rect x="565.41" y="258.30" width="18.56" height="2.00" fill="#d6efb3"/>
<rect x="583.67" y="258.30" width="18.56" height="2.00" fill="#c0e6b5"/>
<rect x="547.15" y="260.00" width="18.56" height="4.70" fill="#edf8b1"/>
<rect x="565.41" y="260.00" width="18.56" height="4.70" fill="#daf0b2"/>
<rect x="583.67" y="260.00" width="18.56" height="4.70" fill="#c7e9b4"/>
<!-- colorbar -->
<defs><linearGradient id="cb" x1="0" y1="1" x2="0" y2="0">
<stop offset="0.000" stop-color="#FFFFD9"/><stop offset="0.125" stop-color="#EDF8B1"/><stop offset="0.250" stop-color="#C7E9B4"/><stop offset="0.375" stop-color="#7FCDBB"/><stop offset="0.500" stop-color="#41B6C4"/><stop offset="0.625" stop-color="#1D91C0"/><stop offset="0.750" stop-color="#225EAA"/><stop offset="0.875" stop-color="#2437A4"/><stop offset="1.000" stop-color="#0C2068"/>
</linearGradient></defs>
<rect x="347.2" y="103.2" width="12.9" height="108.6" fill="url(#cb)"/>
<text transform="translate(320.5,159) rotate(-90)" font-family="Liberation Sans, sans-serif" font-size="13.5" textLength="156" lengthAdjust="spacingAndGlyphs" fill="#111" text-anchor="middle">Standardized Relative Area</text>
<text transform="translate(339.6,98.5) rotate(-90)" font-family="Liberation Sans, sans-serif" font-size="12" fill="#111" text-anchor="middle">2&lt;</text>
<text transform="translate(339.6,214) rotate(-90)" font-family="Liberation Sans, sans-serif" font-size="12" fill="#111" text-anchor="middle">&lt; -2</text>
<!-- dendrogram -->
<path d="M424.29 35.75L435.00 35.75 M424.29 37.65L435.00 37.65 M424.29 35.75L424.29 37.65 M422.10 36.70L424.29 36.70 M426.42 39.55L435.00 39.55 M428.97 41.45L435.00 41.45 M428.97 43.35L435.00 43.35 M428.97 41.45L428.97 43.35 M426.42 42.40L428.97 42.40 M426.42 39.55L426.42 42.40 M422.10 40.97L426.42 40.97 M422.10 36.70L422.10 40.97 M424.00 47.15L435.00 47.15 M425.53 49.05L435.00 49.05 M425.53 50.95L435.00 50.95 M425.53 49.05L425.53 50.95 M424.00 50.00L425.53 50.00 M424.00 47.15L424.00 50.00 M426.40 54.75L435.00 54.75 M426.40 56.65L435.00 56.65 M426.40 54.75L426.40 56.65 M424.74 58.55L435.00 58.55 M424.74 60.45L435.00 60.45 M424.74 58.55L424.74 60.45 M423.03 59.50L424.74 59.50 M424.82 62.35L435.00 62.35 M424.82 64.25L435.00 64.25 M424.82 62.35L424.82 64.25 M423.03 63.30L424.82 63.30 M423.03 59.50L423.03 63.30 M421.20 61.40L423.03 61.40 M426.43 66.15L435.00 66.15 M429.23 68.05L435.00 68.05 M429.23 69.95L435.00 69.95 M429.23 68.05L429.23 69.95 M426.43 69.00L429.23 69.00 M426.43 66.15L426.43 69.00 M424.79 67.57L426.43 67.57 M424.79 71.85L435.00 71.85 M424.79 67.57L424.79 71.85 M421.20 69.71L424.79 69.71 M421.20 61.40L421.20 69.71 M430.04 73.75L435.00 73.75 M432.04 75.65L435.00 75.65 M432.04 77.55L435.00 77.55 M432.04 75.65L432.04 77.55 M430.04 76.60L432.04 76.60 M430.04 73.75L430.04 76.60 M426.10 75.17L430.04 75.17 M428.02 79.45L435.00 79.45 M429.13 81.35L435.00 81.35 M431.42 83.25L435.00 83.25 M431.42 85.15L435.00 85.15 M431.42 83.25L431.42 85.15 M429.13 84.20L431.42 84.20 M429.13 81.35L429.13 84.20 M428.02 82.77L429.13 82.77 M428.02 79.45L428.02 82.77 M426.10 81.11L428.02 81.11 M426.10 75.17L426.10 81.11 M422.10 78.14L426.10 78.14 M427.92 87.05L435.00 87.05 M427.92 88.95L435.00 88.95 M427.92 87.05L427.92 88.95 M424.42 88.00L427.92 88.00 M426.99 90.85L435.00 90.85 M426.99 92.75L435.00 92.75 M426.99 90.85L426.99 92.75 M424.42 91.80L426.99 91.80 M424.42 88.00L424.42 91.80 M422.10 89.90L424.42 89.90 M422.10 78.14L422.10 89.90 M423.49 94.65L435.00 94.65 M425.65 96.55L435.00 96.55 M425.65 98.45L435.00 98.45 M425.65 96.55L425.65 98.45 M423.49 97.50L425.65 97.50 M423.49 94.65L423.49 97.50 M421.60 96.07L423.49 96.07 M426.22 100.35L435.00 100.35 M426.22 102.25L435.00 102.25 M426.22 100.35L426.22 102.25 M421.60 101.30L426.22 101.30 M421.60 96.07L421.60 101.30 M427.40 107.95L435.00 107.95 M430.31 109.85L435.00 109.85 M430.31 111.75L435.00 111.75 M430.31 109.85L430.31 111.75 M427.40 110.80L430.31 110.80 M427.40 107.95L427.40 110.80 M424.60 109.38L427.40 109.38 M428.25 113.65L435.00 113.65 M430.34 115.55L435.00 115.55 M430.34 117.45L435.00 117.45 M430.34 115.55L430.34 117.45 M428.25 116.50L430.34 116.50 M428.25 113.65L428.25 116.50 M424.60 115.07L428.25 115.07 M424.60 109.38L424.60 115.07 M421.60 112.22L424.60 112.22 M431.63 119.35L435.00 119.35 M431.63 121.25L435.00 121.25 M431.63 119.35L431.63 121.25 M428.95 120.30L431.63 120.30 M429.91 123.15L435.00 123.15 M431.79 125.05L435.00 125.05 M431.79 126.95L435.00 126.95 M431.79 125.05L431.79 126.95 M429.91 126.00L431.79 126.00 M429.91 123.15L429.91 126.00 M428.95 124.57L429.91 124.57 M428.95 120.30L428.95 124.57 M425.53 122.44L428.95 122.44 M427.14 128.85L435.00 128.85 M427.14 130.75L435.00 130.75 M427.14 128.85L427.14 130.75 M425.53 129.80L427.14 129.80 M425.53 122.44L425.53 129.80 M421.60 126.12L425.53 126.12 M421.60 112.22L421.60 126.12 M431.30 132.65L435.00 132.65 M431.30 134.55L435.00 134.55 M431.30 132.65L431.30 134.55 M428.74 133.60L431.30 133.60 M428.74 136.45L435.00 136.45 M428.74 133.60L428.74 136.45 M425.03 135.02L428.74 135.02 M427.26 138.35L435.00 138.35 M427.26 140.25L435.00 140.25 M427.26 138.35L427.26 140.25 M425.03 139.30L427.26 139.30 M425.03 135.02L425.03 139.30 M423.50 137.16L425.03 137.16 M429.85 142.15L435.00 142.15 M431.89 144.05L435.00 144.05 M431.89 145.95L435.00 145.95 M431.89 144.05L431.89 145.95 M429.85 145.00L431.89 145.00 M429.85 142.15L429.85 145.00 M427.52 143.57L429.85 143.57 M430.75 147.85L435.00 147.85 M430.75 149.75L435.00 149.75 M430.75 147.85L430.75 149.75 M427.52 148.80L430.75 148.80 M427.52 143.57L427.52 148.80 M423.50 146.19L427.52 146.19 M423.50 137.16L423.50 146.19 M432.73 151.65L435.00 151.65 M432.73 153.55L435.00 153.55 M432.73 151.65L432.73 153.55 M430.89 152.60L432.73 152.60 M430.89 155.45L435.00 155.45 M430.89 152.60L430.89 155.45 M428.66 154.02L430.89 154.02 M432.09 157.35L435.00 157.35 M432.09 159.25L435.00 159.25 M432.09 157.35L432.09 159.25 M431.14 158.30L432.09 158.30 M432.45 161.15L435.00 161.15 M433.15 163.05L435.00 163.05 M433.44 164.95L435.00 164.95 M433.44 166.85L435.00 166.85 M433.44 164.95L433.44 166.85 M433.15 165.90L433.44 165.90 M433.15 163.05L433.15 165.90 M432.45 164.47L433.15 164.47 M432.45 161.15L432.45 164.47 M431.14 162.81L432.45 162.81 M431.14 158.30L431.14 162.81 M428.66 160.56L431.14 160.56 M428.66 154.02L428.66 160.56 M425.40 157.29L428.66 157.29 M429.81 168.75L435.00 168.75 M429.81 170.65L435.00 170.65 M429.81 168.75L429.81 170.65 M428.08 169.70L429.81 169.70 M430.90 172.55L435.00 172.55 M432.00 174.45L435.00 174.45 M432.00 176.35L435.00 176.35 M432.00 174.45L432.00 176.35 M430.90 175.40L432.00 175.40 M430.90 172.55L430.90 175.40 M428.08 173.97L430.90 173.97 M428.08 169.70L428.08 173.97 M426.74 171.84L428.08 171.84 M432.23 178.25L435.00 178.25 M432.23 180.15L435.00 180.15 M432.23 178.25L432.23 180.15 M431.48 179.20L432.23 179.20 M431.48 182.05L435.00 182.05 M431.48 179.20L431.48 182.05 M429.23 180.62L431.48 180.62 M429.23 183.95L435.00 183.95 M429.23 180.62L429.23 183.95 M426.74 182.29L429.23 182.29 M426.74 171.84L426.74 182.29 M425.40 177.06L426.74 177.06 M425.40 157.29L425.40 177.06 M430.45 185.85L435.00 185.85 M431.34 187.75L435.00 187.75 M431.34 189.65L435.00 189.65 M431.34 187.75L431.34 189.65 M430.45 188.70L431.34 188.70 M430.45 185.85L430.45 188.70 M429.46 187.27L430.45 187.27 M431.84 191.55L435.00 191.55 M432.65 193.45L435.00 193.45 M432.65 195.35L435.00 195.35 M432.65 193.45L432.65 195.35 M431.84 194.40L432.65 194.40 M431.84 191.55L431.84 194.40 M431.01 192.97L431.84 192.97 M433.29 197.25L435.00 197.25 M433.29 199.15L435.00 199.15 M433.29 197.25L433.29 199.15 M431.98 198.20L433.29 198.20 M431.98 201.05L435.00 201.05 M431.98 198.20L431.98 201.05 M431.01 199.62L431.98 199.62 M431.01 192.97L431.01 199.62 M429.46 196.30L431.01 196.30 M429.46 187.27L429.46 196.30 M425.18 191.79L429.46 191.79 M431.26 202.95L435.00 202.95 M431.26 204.85L435.00 204.85 M431.26 202.95L431.26 204.85 M430.67 203.90L431.26 203.90 M430.67 206.75L435.00 206.75 M430.67 203.90L430.67 206.75 M428.59 205.32L430.67 205.32 M431.26 208.65L435.00 208.65 M431.26 210.55L435.00 210.55 M431.26 208.65L431.26 210.55 M428.59 209.60L431.26 209.60 M428.59 205.32L428.59 209.60 M425.18 207.46L428.59 207.46 M425.18 191.79L425.18 207.46 M422.10 199.62L425.18 199.62 M432.51 212.45L435.00 212.45 M432.51 214.35L435.00 214.35 M432.51 212.45L432.51 214.35 M431.29 213.40L432.51 213.40 M431.81 216.25L435.00 216.25 M432.42 218.15L435.00 218.15 M432.42 220.05L435.00 220.05 M432.42 218.15L432.42 220.05 M431.81 219.10L432.42 219.10 M431.81 216.25L431.81 219.10 M431.29 217.68L431.81 217.68 M431.29 213.40L431.29 217.68 M430.05 215.54L431.29 215.54 M431.47 221.95L435.00 221.95 M432.07 223.85L435.00 223.85 M432.07 225.75L435.00 225.75 M432.07 223.85L432.07 225.75 M431.47 224.80L432.07 224.80 M431.47 221.95L431.47 224.80 M430.91 223.38L431.47 223.38 M431.53 227.65L435.00 227.65 M431.98 229.55L435.00 229.55 M431.98 231.45L435.00 231.45 M431.98 229.55L431.98 231.45 M431.53 230.50L431.98 230.50 M431.53 227.65L431.53 230.50 M430.91 229.07L431.53 229.07 M430.91 223.38L430.91 229.07 M430.05 226.22L430.91 226.22 M430.05 215.54L430.05 226.22 M426.97 220.88L430.05 220.88 M431.05 233.35L435.00 233.35 M431.98 235.25L435.00 235.25 M431.98 237.15L435.00 237.15 M431.98 235.25L431.98 237.15 M431.05 236.20L431.98 236.20 M431.05 233.35L431.05 236.20 M430.25 234.77L431.05 234.77 M431.39 239.05L435.00 239.05 M432.83 240.95L435.00 240.95 M432.83 242.85L435.00 242.85 M432.83 240.95L432.83 242.85 M431.39 241.90L432.83 241.90 M431.39 239.05L431.39 241.90 M430.25 240.47L431.39 240.47 M430.25 234.77L430.25 240.47 M426.97 237.62L430.25 237.62 M426.97 220.88L426.97 237.62 M422.10 229.25L426.97 229.25 M422.10 199.62L422.10 229.25 M420.70 214.44L422.10 214.44 M420.70 245.20L435.00 245.20 M420.70 214.44L420.70 245.20 M421.20 246.65L435.00 246.65 M423.25 248.55L435.00 248.55 M423.25 250.45L435.00 250.45 M423.25 248.55L423.25 250.45 M421.20 249.50L423.25 249.50 M421.20 246.65L421.20 249.50 M423.00 254.25L435.00 254.25 M425.80 256.15L435.00 256.15 M429.42 258.05L435.00 258.05 M429.42 259.95L435.00 259.95 M429.42 258.05L429.42 259.95 M425.80 259.00L429.42 259.00 M425.80 256.15L425.80 259.00 M423.00 257.57L425.80 257.57 M423.00 254.25L423.00 257.57 M420.43 263.75L435.00 263.75 M420.43 265.65L435.00 265.65 M420.43 263.75L420.43 265.65 M426.53 267.55L435.00 267.55 M429.07 269.45L435.00 269.45 M429.07 271.35L435.00 271.35 M429.07 269.45L429.07 271.35 M426.53 270.40L429.07 270.40 M426.53 267.55L426.53 270.40 M423.00 268.98L426.53 268.98 M424.55 273.25L435.00 273.25 M424.55 275.15L435.00 275.15 M424.55 273.25L424.55 275.15 M423.00 274.20L424.55 274.20 M423.00 268.98L423.00 274.20 M420.70 271.59L423.00 271.59 M430.21 277.05L435.00 277.05 M430.21 278.95L435.00 278.95 M430.21 277.05L430.21 278.95 M426.40 278.00L430.21 278.00 M426.40 280.85L435.00 280.85 M426.40 278.00L426.40 280.85 M420.70 279.42L426.40 279.42 M420.70 271.59L420.70 279.42" stroke="#444" stroke-width="0.7" fill="none"/><path d="M416.00 38.84L422.10 38.84 M416.00 45.40L435.00 45.40 M416.00 38.84L416.00 45.40 M412.20 42.12L416.00 42.12 M412.20 48.58L424.00 48.58 M412.20 42.12L412.20 48.58 M408.40 45.35L412.20 45.35 M408.40 53.40L435.00 53.40 M408.40 45.35L408.40 53.40 M396.60 49.37L408.40 49.37 M396.60 55.70L426.40 55.70 M396.60 49.37L396.60 55.70 M384.30 52.54L396.60 52.54 M416.90 65.56L421.20 65.56 M416.90 84.02L422.10 84.02 M416.90 65.56L416.90 84.02 M408.40 74.79L416.90 74.79 M408.40 98.69L421.60 98.69 M408.40 74.79L408.40 98.69 M403.30 86.74L408.40 86.74 M416.40 104.15L435.00 104.15 M416.40 106.05L435.00 106.05 M416.40 104.15L416.40 106.05 M403.30 105.10L416.40 105.10 M403.30 86.74L403.30 105.10 M384.30 95.92L403.30 95.92 M384.30 52.54L384.30 95.92 M368.00 74.23L384.30 74.23 M418.30 119.17L421.60 119.17 M418.30 141.68L423.50 141.68 M418.30 119.17L418.30 141.68 M417.40 130.42L418.30 130.42 M417.40 167.18L425.40 167.18 M417.40 130.42L417.40 167.18 M411.20 148.80L417.40 148.80 M411.20 229.82L420.70 229.82 M411.20 148.80L411.20 229.82 M402.40 189.31L411.20 189.31 M416.00 248.07L421.20 248.07 M416.00 252.35L435.00 252.35 M416.00 248.07L416.00 252.35 M413.60 250.21L416.00 250.21 M413.60 255.91L423.00 255.91 M413.60 250.21L413.60 255.91 M402.40 253.06L413.60 253.06 M402.40 189.31L402.40 253.06 M398.60 221.19L402.40 221.19 M418.30 261.85L435.00 261.85 M418.30 264.70L420.43 264.70 M418.30 261.85L418.30 264.70 M409.30 263.27L418.30 263.27 M409.30 275.51L420.70 275.51 M409.30 263.27L409.30 275.51 M398.60 269.39L409.30 269.39 M398.60 221.19L398.60 269.39 M368.00 245.29L398.60 245.29 M368.00 74.23L368.00 245.29" stroke="#777" stroke-width="1.4" fill="none"/>
<!-- column labels -->
<g font-family="Liberation Sans, sans-serif" font-size="12.8" fill="#111" text-anchor="middle">
<text x="463" y="297.3">2,4-D</text><text x="463" y="312.4">4 days</text>
<text x="517.8" y="297.3">BA</text><text x="517.8" y="312.4">4 days</text>
<text x="572.5" y="297.3">2,4-D</text><text x="572.5" y="312.4">7 days</text>
<text x="627.2" y="297.3">BA</text><text x="627.2" y="312.4">7 days</text>
</g>
</svg>
</body></html>
